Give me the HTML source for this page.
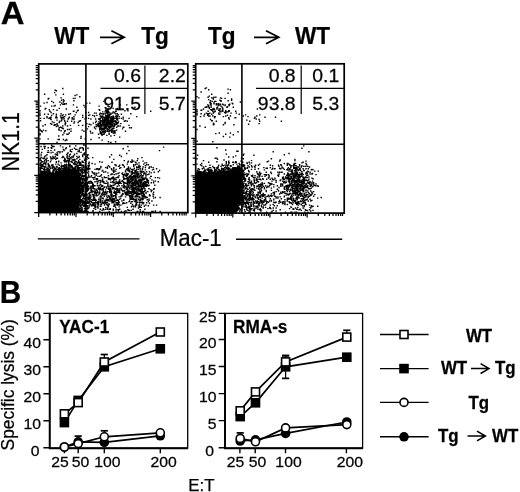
<!DOCTYPE html>
<html lang="en"><head><meta charset="utf-8"><title>Figure</title>
<style>html,body{margin:0;padding:0;background:#fff}svg{display:block}text{stroke:#000;stroke-width:.25px}</style></head>
<body>
<svg width="520" height="492" viewBox="0 0 520 492" font-family='"Liberation Sans", Arial, Helvetica, sans-serif' fill="#000">
<rect width="520" height="492" fill="#fff"/>
<text transform="translate(0.7,24.1) scale(1.04,1)" font-size="31.6" font-weight="bold">A</text>
<text transform="translate(-0.2,303.3) scale(0.925,1)" font-size="32.2" font-weight="bold">B</text>
<text transform="translate(54.3,43.7) scale(0.925,1)" font-size="24.4" font-weight="bold">WT</text>
<path d="M100 37.3H124.2M111.4 30.799999999999997L124.2 37.3L111.4 43.8" stroke="#000" stroke-width="1.7" fill="none" stroke-linejoin="miter"/>
<text transform="translate(141.2,43.7) scale(0.925,1)" font-size="24.4" font-weight="bold">Tg</text>
<text transform="translate(208,43.7) scale(0.925,1)" font-size="24.4" font-weight="bold">Tg</text>
<path d="M254 37.3H278.8M266.0 30.799999999999997L278.8 37.3L266.0 43.8" stroke="#000" stroke-width="1.7" fill="none" stroke-linejoin="miter"/>
<text transform="translate(295,43.7) scale(0.925,1)" font-size="24.4" font-weight="bold">WT</text>
<path d="M38.7 212.6v4.4M38.7 212.6h-4.4M49.9 212.6v3.0M38.7 201.4h-3.0M56.5 212.6v3.0M38.7 194.9h-3.0M61.1 212.6v3.0M38.7 190.2h-3.0M64.8 212.6v3.0M38.7 186.6h-3.0M67.7 212.6v3.0M38.7 183.7h-3.0M70.2 212.6v3.0M38.7 181.2h-3.0M72.4 212.6v3.0M38.7 179.0h-3.0M74.3 212.6v3.0M38.7 177.1h-3.0M76.0 212.6v4.4M38.7 175.4h-4.4M87.2 212.6v3.0M38.7 164.2h-3.0M93.8 212.6v3.0M38.7 157.7h-3.0M98.4 212.6v3.0M38.7 153.0h-3.0M102.1 212.6v3.0M38.7 149.4h-3.0M105.0 212.6v3.0M38.7 146.5h-3.0M107.5 212.6v3.0M38.7 144.0h-3.0M109.7 212.6v3.0M38.7 141.9h-3.0M111.6 212.6v3.0M38.7 140.0h-3.0M113.3 212.6v4.4M38.7 138.2h-4.4M124.5 212.6v3.0M38.7 127.1h-3.0M131.1 212.6v3.0M38.7 120.5h-3.0M135.7 212.6v3.0M38.7 115.9h-3.0M139.3 212.6v3.0M38.7 112.3h-3.0M142.3 212.6v3.0M38.7 109.3h-3.0M144.8 212.6v3.0M38.7 106.8h-3.0M146.9 212.6v3.0M38.7 104.7h-3.0M148.9 212.6v3.0M38.7 102.8h-3.0M150.6 212.6v4.4M38.7 101.1h-4.4M161.8 212.6v3.0M38.7 89.9h-3.0M168.4 212.6v3.0M38.7 83.3h-3.0M173.0 212.6v3.0M38.7 78.7h-3.0M176.6 212.6v3.0M38.7 75.1h-3.0M179.6 212.6v3.0M38.7 72.1h-3.0M182.1 212.6v3.0M38.7 69.7h-3.0M184.2 212.6v3.0M38.7 67.5h-3.0M186.1 212.6v3.0M38.7 65.6h-3.0" stroke="#000" stroke-width="1.25" fill="none"/>
<path d="M195.7 213.1v4.4M195.7 213.1h-4.4M206.9 213.1v3.0M195.7 201.9h-3.0M213.4 213.1v3.0M195.7 195.3h-3.0M218.1 213.1v3.0M195.7 190.6h-3.0M221.6 213.1v3.0M195.7 187.0h-3.0M224.6 213.1v3.0M195.7 184.1h-3.0M227.1 213.1v3.0M195.7 181.6h-3.0M229.2 213.1v3.0M195.7 179.4h-3.0M231.1 213.1v3.0M195.7 177.5h-3.0M232.8 213.1v4.4M195.7 175.8h-4.4M244.0 213.1v3.0M195.7 164.5h-3.0M250.5 213.1v3.0M195.7 158.0h-3.0M255.2 213.1v3.0M195.7 153.3h-3.0M258.8 213.1v3.0M195.7 149.7h-3.0M261.7 213.1v3.0M195.7 146.7h-3.0M264.2 213.1v3.0M195.7 144.2h-3.0M266.4 213.1v3.0M195.7 142.1h-3.0M268.3 213.1v3.0M195.7 140.2h-3.0M269.9 213.1v4.4M195.7 138.4h-4.4M281.1 213.1v3.0M195.7 127.2h-3.0M287.7 213.1v3.0M195.7 120.6h-3.0M292.3 213.1v3.0M195.7 116.0h-3.0M295.9 213.1v3.0M195.7 112.4h-3.0M298.8 213.1v3.0M195.7 109.4h-3.0M301.3 213.1v3.0M195.7 106.9h-3.0M303.5 213.1v3.0M195.7 104.7h-3.0M305.4 213.1v3.0M195.7 102.8h-3.0M307.1 213.1v4.4M195.7 101.1h-4.4M318.3 213.1v3.0M195.7 89.9h-3.0M324.8 213.1v3.0M195.7 83.3h-3.0M329.4 213.1v3.0M195.7 78.7h-3.0M333.0 213.1v3.0M195.7 75.0h-3.0M336.0 213.1v3.0M195.7 72.1h-3.0M338.4 213.1v3.0M195.7 69.6h-3.0M340.6 213.1v3.0M195.7 67.4h-3.0M342.5 213.1v3.0M195.7 65.5h-3.0" stroke="#000" stroke-width="1.25" fill="none"/>
<path d="M38.7 212.6L38.7 173.8L39.7 173.8L40.7 173.8L41.7 173.8L42.7 173.8L43.7 173.8L44.7 173.8L45.7 173.8L46.7 173.8L47.7 173.8L48.7 173.8L49.7 173.8L50.7 173.8L51.7 173.8L52.7 173.8L53.7 173.8L54.7 173.8L55.7 173.5L56.7 173.1L57.7 172.7L58.7 172.3L59.7 171.8L60.7 171.4L61.7 171.0L62.7 170.6L63.7 170.2L64.7 169.8L65.7 169.3L66.7 168.9L67.7 168.8L68.7 168.8L69.7 168.8L70.7 168.8L71.6 168.8L73.0 168.9L74.3 169.3L75.6 169.9L76.7 170.7L77.7 171.7L78.5 172.8L79.1 174.1L79.5 175.4L79.6 176.8L79.6 177.8L79.6 178.8L79.6 179.8L79.6 180.8L79.6 181.8L79.6 182.8L79.6 183.8L79.6 184.8L79.6 185.8L79.6 186.8L79.6 187.8L79.6 188.8L79.6 189.8L79.6 190.8L79.6 191.8L79.6 192.8L79.6 193.8L79.6 194.8L79.6 195.8L79.6 196.8L79.6 197.8L79.6 198.8L79.6 199.8L79.4 200.8L79.1 201.8L78.9 202.8L78.6 203.8L78.3 204.8L78.1 205.8L77.8 206.8L77.5 207.8L77.3 208.8L77.0 209.8L76.7 210.8L76.5 211.8L76.2 212.6Z" fill="#000"/>
<path d="M63.3 118.4h1.42M67.4 134.2h1.42M58.6 127.7h1.42M49.8 123.6h1.42M56.3 110.2h1.42M48.1 98.4h1.42M63.9 131.3h1.42M83.2 131.3h1.42M55.7 116.0h1.42M53.9 125.4h1.42M70.3 128.9h1.42M68.6 129.5h1.42M64.5 130.7h1.42M49.2 111.3h1.42M62.7 139.5h1.42M73.2 100.8h1.42M42.8 130.1h1.42M56.3 124.8h1.42M39.3 130.1h1.42M43.4 144.2h1.42M39.3 138.9h1.42M59.2 102.0h1.42M43.9 94.3h1.42M66.8 129.5h1.42M65.6 103.7h1.42M60.4 117.8h1.42M39.3 129.5h1.42M55.1 94.9h1.42M62.1 88.5h1.42M64.5 121.9h1.42M39.8 118.4h1.42M55.7 114.3h1.42M48.1 118.4h1.42M51.0 106.1h1.42M79.1 96.7h1.42M51.0 115.4h1.42M62.7 104.3h1.42M76.2 94.9h1.42M54.5 124.8h1.42M61.5 117.2h1.42M64.5 123.6h1.42M63.9 104.3h1.42M44.5 109.0h1.42M63.9 103.7h1.42M83.2 105.5h1.42M39.8 120.7h1.42M76.2 107.2h1.42M65.0 123.1h1.42M53.3 122.5h1.42M74.4 98.4h1.42M45.1 130.7h1.42M63.9 116.6h1.42M71.5 117.8h1.42M60.4 97.9h1.42M73.2 111.3h1.42M62.1 128.3h1.42M73.2 116.6h1.42M84.4 119.0h1.42M52.7 113.7h1.42M66.2 134.2h1.42M56.3 117.8h1.42M45.1 108.4h1.42M54.5 90.2h1.42M76.8 110.8h1.42M80.3 136.5h1.42M43.4 118.4h1.42M51.0 101.4h1.42M72.7 104.9h1.42M39.3 133.6h1.42M56.3 120.1h1.42M61.5 119.0h1.42M82.0 117.2h1.42M73.2 118.4h1.42M58.0 129.5h1.42M57.4 126.0h1.42M59.2 121.3h1.42M86.1 103.1h1.42M56.8 125.4h1.42M58.6 108.4h1.42M68.6 133.0h1.42M60.9 100.2h1.42M59.8 116.0h1.42M46.3 117.8h1.42M62.7 99.6h1.42M56.3 142.4h1.42M80.3 138.3h1.42M72.7 111.3h1.42M62.7 128.9h1.42M73.2 123.1h1.42M78.5 121.3h1.42M62.7 117.2h1.42M71.5 119.0h1.42M43.4 103.1h1.42M68.0 114.3h1.42M39.3 115.4h1.42M39.3 134.8h1.42M58.6 122.5h1.42M49.2 117.8h1.42M65.6 139.5h1.42M50.4 112.5h1.42M53.9 92.6h1.42M66.2 140.1h1.42M70.3 131.3h1.42M60.4 130.7h1.42M59.8 127.2h1.42M73.2 119.5h1.42M70.9 121.3h1.42M47.5 114.3h1.42M61.5 115.4h1.42M63.3 119.0h1.42M47.5 138.9h1.42M66.8 126.0h1.42M50.4 117.2h1.42M77.4 110.2h1.42M65.6 109.0h1.42M64.5 140.6h1.42M53.9 124.8h1.42M60.9 119.0h1.42M39.3 113.1h1.42M46.3 102.5h1.42M68.6 117.2h1.42M39.3 130.1h1.42M75.6 112.5h1.42M39.3 114.9h1.42M74.4 114.9h1.42M50.4 119.5h1.42M74.4 95.5h1.42M65.0 114.9h1.42M39.8 106.1h1.42M81.5 130.1h1.42M84.4 107.2h1.42M62.1 126.0h1.42M58.6 139.5h1.42M60.4 113.7h1.42M48.6 109.6h1.42M79.7 120.7h1.42M55.1 117.8h1.42M62.1 104.3h1.42M51.0 124.2h1.42M53.3 146.5h1.42M43.9 114.3h1.42M82.0 115.4h1.42M60.9 103.1h1.42M77.4 122.5h1.42M63.3 100.8h1.42M52.7 102.5h1.42M58.0 136.0h1.42M54.5 105.5h1.42M63.3 133.0h1.42M57.4 139.5h1.42M58.6 121.9h1.42M42.2 126.0h1.42M51.0 145.3h1.42M87.9 115.4h1.42M52.7 109.6h1.42M47.5 99.0h1.42M68.0 118.4h1.42M84.4 138.9h1.42M41.0 131.3h1.42M59.8 104.9h1.42M53.3 106.1h1.42M39.3 110.8h1.42M73.8 121.9h1.42M62.7 114.9h1.42M63.9 120.7h1.42M51.6 121.9h1.42M69.7 113.7h1.42M55.1 117.2h1.42M60.9 120.7h1.42M46.3 116.6h1.42M44.5 124.8h1.42M83.2 144.2h1.42M55.7 126.6h1.42M67.4 119.0h1.42M62.7 94.3h1.42M56.3 123.6h1.42M55.7 90.8h1.42M72.7 98.4h1.42M58.6 130.1h1.42M60.9 127.7h1.42M62.7 102.0h1.42M62.1 134.8h1.42M82.0 125.4h1.42M40.4 130.7h1.42M53.3 125.4h1.42M66.8 121.3h1.42M41.6 131.8h1.42M49.8 119.0h1.42M112.5 123.1h1.42M104.9 118.4h1.42M109.6 122.5h1.42M106.7 120.7h1.42M105.5 126.6h1.42M105.5 119.5h1.42M100.8 120.7h1.42M100.2 128.3h1.42M111.3 131.8h1.42M106.7 131.3h1.42M108.4 122.5h1.42M111.9 123.1h1.42M99.0 130.1h1.42M103.7 121.9h1.42M108.4 117.8h1.42M109.0 122.5h1.42M105.5 124.2h1.42M112.5 118.4h1.42M108.4 114.9h1.42M101.4 116.6h1.42M102.5 126.0h1.42M111.3 118.4h1.42M109.6 121.3h1.42M97.9 124.2h1.42M113.7 124.2h1.42M110.2 120.7h1.42M113.7 123.6h1.42M105.5 118.4h1.42M106.1 120.7h1.42M102.0 118.4h1.42M119.5 126.0h1.42M106.7 122.5h1.42M114.9 118.4h1.42M104.3 121.3h1.42M107.8 121.3h1.42M99.0 126.0h1.42M105.5 115.4h1.42M111.9 117.2h1.42M101.4 121.3h1.42M112.5 133.0h1.42M109.0 126.6h1.42M102.0 122.5h1.42M104.9 126.0h1.42M104.9 131.8h1.42M107.2 121.3h1.42M104.9 120.7h1.42M103.1 128.3h1.42M106.1 124.8h1.42M102.5 126.0h1.42M100.8 120.7h1.42M107.2 130.7h1.42M111.3 129.5h1.42M99.6 125.4h1.42M107.2 125.4h1.42M104.3 113.7h1.42M102.5 125.4h1.42M111.3 121.3h1.42M104.9 124.2h1.42M114.9 124.8h1.42M103.7 121.3h1.42M109.0 114.3h1.42M106.1 124.2h1.42M103.7 119.5h1.42M110.2 120.7h1.42M106.7 119.5h1.42M110.2 120.7h1.42M107.2 111.9h1.42M102.0 128.3h1.42M106.7 123.6h1.42M107.8 127.2h1.42M111.9 130.7h1.42M103.1 123.1h1.42M107.2 114.3h1.42M99.0 119.0h1.42M110.8 116.6h1.42M102.0 120.7h1.42M98.4 123.6h1.42M107.2 113.1h1.42M112.5 123.1h1.42M99.6 116.0h1.42M102.0 124.2h1.42M103.7 121.9h1.42M102.0 121.3h1.42M109.0 121.9h1.42M103.1 120.1h1.42M103.7 120.1h1.42M110.2 114.3h1.42M103.7 122.5h1.42M109.6 130.1h1.42M102.5 131.8h1.42M101.4 128.9h1.42M98.4 126.6h1.42M116.6 118.4h1.42M105.5 128.9h1.42M108.4 121.9h1.42M107.2 121.9h1.42M107.8 120.7h1.42M107.8 122.5h1.42M116.6 119.5h1.42M102.0 122.5h1.42M99.6 118.4h1.42M102.5 121.3h1.42M100.8 133.0h1.42M110.8 121.9h1.42M111.3 120.7h1.42M102.5 125.4h1.42M100.2 126.0h1.42M105.5 117.2h1.42M114.3 120.7h1.42M93.8 127.7h1.42M110.2 123.1h1.42M102.0 123.1h1.42M112.5 128.9h1.42M102.0 119.5h1.42M106.1 123.1h1.42M100.2 120.7h1.42M102.5 129.5h1.42M114.3 113.1h1.42M111.3 119.0h1.42M105.5 120.1h1.42M103.1 125.4h1.42M97.9 126.0h1.42M105.5 128.9h1.42M107.2 115.4h1.42M106.7 126.0h1.42M106.7 121.3h1.42M102.0 119.5h1.42M107.2 124.8h1.42M107.2 118.4h1.42M113.7 112.5h1.42M116.6 119.5h1.42M106.7 115.4h1.42M103.7 119.5h1.42M107.2 124.2h1.42M104.3 124.2h1.42M103.7 129.5h1.42M107.2 121.3h1.42M102.0 116.0h1.42M110.2 118.4h1.42M106.7 118.4h1.42M108.4 116.6h1.42M106.7 124.2h1.42M103.7 119.5h1.42M102.5 113.7h1.42M106.1 125.4h1.42M104.9 121.9h1.42M108.4 123.6h1.42M107.2 123.1h1.42M100.8 126.0h1.42M107.8 122.5h1.42M100.8 128.3h1.42M104.3 124.2h1.42M106.1 124.2h1.42M97.3 124.8h1.42M107.8 116.0h1.42M107.8 121.3h1.42M106.7 121.3h1.42M105.5 123.6h1.42M105.5 116.6h1.42M102.5 130.1h1.42M106.1 123.1h1.42M104.3 117.2h1.42M107.8 114.9h1.42M101.4 121.3h1.42M108.4 121.9h1.42M107.8 119.0h1.42M106.7 123.1h1.42M104.9 119.5h1.42M110.2 124.2h1.42M99.0 119.5h1.42M109.6 121.9h1.42M108.4 126.6h1.42M108.4 133.6h1.42M109.0 117.8h1.42M104.3 120.7h1.42M106.1 118.4h1.42M110.2 125.4h1.42M109.6 117.2h1.42M108.4 120.1h1.42M99.6 123.1h1.42M110.2 117.8h1.42M113.1 117.2h1.42M112.5 119.5h1.42M108.4 112.5h1.42M99.6 116.6h1.42M111.9 120.1h1.42M106.7 123.1h1.42M94.9 122.5h1.42M109.0 114.3h1.42M100.2 120.7h1.42M100.8 126.6h1.42M104.3 124.8h1.42M113.7 121.3h1.42M105.5 118.4h1.42M108.4 124.8h1.42M116.0 119.0h1.42M114.9 116.6h1.42M106.7 119.0h1.42M106.1 128.9h1.42M101.4 123.6h1.42M103.7 127.7h1.42M109.6 120.1h1.42M109.0 126.6h1.42M107.8 119.5h1.42M111.9 121.3h1.42M103.7 133.6h1.42M107.2 126.0h1.42M110.8 119.5h1.42M110.2 121.9h1.42M112.5 123.1h1.42M109.0 127.7h1.42M106.1 120.1h1.42M109.0 114.3h1.42M102.5 121.3h1.42M99.0 123.1h1.42M110.2 122.5h1.42M107.2 128.3h1.42M109.0 123.6h1.42M99.0 126.6h1.42M105.5 117.8h1.42M104.3 126.6h1.42M103.1 131.8h1.42M96.1 126.6h1.42M105.5 123.6h1.42M111.9 122.5h1.42M109.0 130.1h1.42M104.3 118.4h1.42M107.2 121.9h1.42M110.8 124.2h1.42M93.8 127.2h1.42M106.7 120.1h1.42M110.2 123.6h1.42M110.8 120.7h1.42M115.4 121.9h1.42M113.1 121.3h1.42M109.0 117.2h1.42M109.0 121.9h1.42M111.3 126.0h1.42M104.9 118.4h1.42M107.2 121.3h1.42M111.9 124.8h1.42M116.6 116.6h1.42M106.7 123.1h1.42M107.2 117.8h1.42M108.4 127.2h1.42M113.7 131.8h1.42M107.2 131.3h1.42M114.3 120.7h1.42M102.5 126.0h1.42M106.7 123.1h1.42M106.1 123.1h1.42M111.3 128.9h1.42M112.5 116.0h1.42M99.6 127.7h1.42M102.5 122.5h1.42M109.0 128.3h1.42M104.3 123.6h1.42M99.6 120.1h1.42M112.5 123.1h1.42M109.6 125.4h1.42M109.6 122.5h1.42M104.9 124.8h1.42M112.5 119.5h1.42M106.1 113.1h1.42M112.5 126.0h1.42M102.5 126.0h1.42M103.1 123.1h1.42M108.4 122.5h1.42M103.7 127.2h1.42M110.8 120.1h1.42M101.4 140.1h1.42M105.5 116.0h1.42M117.8 121.9h1.42M95.5 121.3h1.42M117.8 126.0h1.42M102.0 130.1h1.42M97.9 119.0h1.42M118.4 116.6h1.42M106.7 110.2h1.42M96.1 115.4h1.42M104.3 126.6h1.42M115.4 123.1h1.42M117.8 114.9h1.42M103.7 119.5h1.42M110.8 122.5h1.42M113.7 126.0h1.42M102.0 118.4h1.42M110.2 120.7h1.42M107.2 109.0h1.42M102.5 114.3h1.42M103.1 134.2h1.42M107.8 106.1h1.42M107.8 120.1h1.42M102.5 124.2h1.42M103.7 119.5h1.42M116.6 116.6h1.42M109.0 121.9h1.42M114.9 122.5h1.42M117.8 121.9h1.42M112.5 108.4h1.42M126.6 121.3h1.42M100.2 116.0h1.42M114.3 118.4h1.42M104.3 124.2h1.42M123.1 127.2h1.42M121.9 128.9h1.42M90.2 119.0h1.42M99.0 129.5h1.42M113.1 131.3h1.42M114.3 130.7h1.42M113.7 133.0h1.42M106.7 121.3h1.42M111.3 121.3h1.42M113.1 128.3h1.42M106.7 112.5h1.42M116.0 124.2h1.42M87.9 118.4h1.42M112.5 119.5h1.42M98.4 109.6h1.42M115.4 116.0h1.42M105.5 122.5h1.42M99.6 128.9h1.42M110.8 130.1h1.42M99.6 121.9h1.42M99.6 121.3h1.42M93.8 116.6h1.42M107.2 125.4h1.42M111.3 120.7h1.42M116.0 127.2h1.42M106.1 135.4h1.42M116.0 122.5h1.42M107.2 111.3h1.42M106.7 116.0h1.42M112.5 111.9h1.42M116.6 113.7h1.42M104.3 132.4h1.42M105.5 124.2h1.42M106.1 111.3h1.42M107.8 127.2h1.42M99.6 131.8h1.42M116.0 119.5h1.42M103.7 117.8h1.42M111.3 120.1h1.42M100.2 124.8h1.42M110.2 127.2h1.42M110.8 131.3h1.42M103.7 131.3h1.42M124.8 131.3h1.42M110.8 132.4h1.42M122.5 127.2h1.42M115.4 111.3h1.42M101.4 121.3h1.42M103.7 124.8h1.42M111.3 119.5h1.42M107.8 129.5h1.42M107.8 119.5h1.42M104.9 115.4h1.42M92.0 133.0h1.42M105.5 127.2h1.42M88.5 124.2h1.42M110.8 129.5h1.42M100.8 130.1h1.42M101.4 124.8h1.42M105.5 104.3h1.42M109.6 117.8h1.42M94.9 119.0h1.42M92.0 115.4h1.42M97.9 124.2h1.42M89.7 131.3h1.42M99.0 119.0h1.42M120.7 114.3h1.42M98.4 137.7h1.42M113.1 119.0h1.42M95.5 113.1h1.42M109.6 124.2h1.42M104.3 125.4h1.42M106.7 117.2h1.42M111.9 128.3h1.42M122.5 119.0h1.42M109.0 115.4h1.42M108.4 123.6h1.42M99.0 128.3h1.42M112.5 117.8h1.42M104.9 124.8h1.42M114.3 121.9h1.42M106.7 143.6h1.42M122.5 117.2h1.42M90.2 133.0h1.42M104.9 121.9h1.42M114.9 121.3h1.42M104.3 127.7h1.42M100.2 128.9h1.42M104.9 131.8h1.42M95.5 124.8h1.42M108.4 117.8h1.42M128.3 118.4h1.42M117.2 126.0h1.42M97.9 126.6h1.42M99.6 133.0h1.42M103.7 125.4h1.42M116.0 130.1h1.42M100.2 133.6h1.42M101.4 123.6h1.42M114.9 111.3h1.42M114.9 113.7h1.42M104.3 111.9h1.42M97.9 134.2h1.42M93.8 116.0h1.42M101.4 131.8h1.42M87.9 126.6h1.42M113.7 135.4h1.42M102.0 130.1h1.42M111.3 121.9h1.42M123.6 121.3h1.42M117.2 123.1h1.42M97.3 123.6h1.42M114.9 118.4h1.42M117.2 122.5h1.42M100.8 134.2h1.42M99.0 110.2h1.42M106.1 124.2h1.42M93.8 116.0h1.42M120.1 123.6h1.42M86.7 128.9h1.42M97.9 121.9h1.42M104.9 128.3h1.42M105.5 110.8h1.42M109.0 130.7h1.42M109.6 117.8h1.42M105.5 127.2h1.42M117.2 123.6h1.42M89.1 103.1h1.42M107.2 116.6h1.42M101.4 124.2h1.42M108.4 134.2h1.42M109.0 124.8h1.42M99.6 124.2h1.42M102.0 111.9h1.42M114.3 133.0h1.42M110.2 136.0h1.42M101.4 122.5h1.42M124.8 120.7h1.42M127.2 110.8h1.42M94.9 128.9h1.42M110.2 142.4h1.42M128.9 127.7h1.42M114.3 131.8h1.42M109.0 126.6h1.42M105.5 115.4h1.42M102.5 132.4h1.42M105.5 113.1h1.42M102.5 120.7h1.42M113.7 124.8h1.42M103.7 128.9h1.42M103.7 125.4h1.42M96.7 125.4h1.42M106.7 116.6h1.42M99.6 113.1h1.42M105.5 123.1h1.42M116.0 117.2h1.42M110.2 113.1h1.42M111.9 113.1h1.42M110.2 119.0h1.42M107.8 109.0h1.42M106.1 112.5h1.42M104.9 110.2h1.42M113.7 123.6h1.42M97.9 125.4h1.42M119.0 137.1h1.42M107.8 111.3h1.42M100.8 117.2h1.42M103.1 129.5h1.42M101.4 120.7h1.42M108.4 120.1h1.42M101.4 135.4h1.42M117.2 120.1h1.42M100.8 113.7h1.42M87.9 112.5h1.42M100.8 124.8h1.42M90.2 124.8h1.42M107.2 112.5h1.42M116.6 115.4h1.42M113.1 126.6h1.42M95.5 126.6h1.42M100.8 117.8h1.42M122.5 127.2h1.42M110.2 126.6h1.42M107.2 109.6h1.42M116.6 120.1h1.42M128.3 125.4h1.42M118.4 118.4h1.42M108.4 106.7h1.42M110.2 120.1h1.42M112.5 128.3h1.42M102.0 134.2h1.42M98.4 106.1h1.42M107.8 141.8h1.42M99.0 114.3h1.42M106.7 129.5h1.42M108.4 131.8h1.42M120.7 118.4h1.42M107.2 106.1h1.42M86.1 123.6h1.42M114.9 141.8h1.42M93.8 113.1h1.42M64.5 124.8h1.42M150.0 111.3h1.42M116.6 108.4h1.42M134.2 107.2h1.42M90.2 139.5h1.42M128.3 150.6h1.42M130.7 127.7h1.42M130.1 113.7h1.42M104.9 130.7h1.42M85.6 117.8h1.42M102.0 131.8h1.42M69.7 125.4h1.42M77.9 125.4h1.42M106.7 129.5h1.42M89.1 114.9h1.42M102.5 117.2h1.42M103.1 101.4h1.42M136.0 116.6h1.42M126.0 104.9h1.42M104.3 120.1h1.42M124.2 110.8h1.42M92.6 123.1h1.42M99.6 127.2h1.42M119.5 104.9h1.42M85.0 112.5h1.42M100.2 198.7h1.42M107.8 178.1h1.42M118.4 202.2h1.42M111.9 198.7h1.42M86.1 178.7h1.42M101.4 194.0h1.42M92.0 211.0h1.42M87.3 196.9h1.42M90.8 186.9h1.42M92.6 185.8h1.42M117.8 211.0h1.42M110.2 174.6h1.42M113.7 201.0h1.42M108.4 211.5h1.42M94.9 191.6h1.42M97.9 187.5h1.42M99.6 180.5h1.42M94.3 169.4h1.42M99.0 176.4h1.42M110.8 178.7h1.42M86.7 191.0h1.42M93.8 199.2h1.42M100.8 185.2h1.42M107.8 188.1h1.42M106.7 168.2h1.42M109.6 186.3h1.42M87.9 203.3h1.42M90.2 186.3h1.42M94.9 201.0h1.42M110.2 195.1h1.42M119.0 192.8h1.42M107.8 178.7h1.42M85.0 161.1h1.42M94.3 192.2h1.42M116.6 205.1h1.42M104.9 202.8h1.42M96.1 168.8h1.42M96.7 202.2h1.42M106.1 203.9h1.42M114.3 195.7h1.42M96.1 169.4h1.42M90.8 202.2h1.42M84.4 184.0h1.42M89.1 200.4h1.42M113.7 198.7h1.42M106.1 204.5h1.42M119.0 209.2h1.42M86.1 184.0h1.42M96.7 181.7h1.42M111.9 181.7h1.42M107.2 186.3h1.42M86.1 189.9h1.42M97.9 204.5h1.42M106.1 188.1h1.42M107.8 206.9h1.42M99.6 202.2h1.42M90.8 190.4h1.42M117.8 202.8h1.42M100.2 186.9h1.42M109.0 192.2h1.42M102.5 198.7h1.42M86.7 168.8h1.42M92.0 188.1h1.42M86.1 209.8h1.42M90.8 202.2h1.42M90.8 181.7h1.42M98.4 188.1h1.42M96.7 206.9h1.42M112.5 177.0h1.42M85.0 185.2h1.42M112.5 198.7h1.42M102.5 208.6h1.42M99.6 206.3h1.42M93.2 199.8h1.42M103.1 194.6h1.42M92.0 177.6h1.42M114.3 184.6h1.42M113.1 168.8h1.42M95.5 189.3h1.42M85.0 198.1h1.42M114.9 183.4h1.42M94.3 190.4h1.42M107.2 184.0h1.42M114.3 193.4h1.42M111.9 198.1h1.42M114.3 205.7h1.42M101.4 186.3h1.42M113.7 179.3h1.42M100.2 201.6h1.42M93.2 197.5h1.42M100.8 194.6h1.42M95.5 192.8h1.42M110.8 169.4h1.42M113.1 199.8h1.42M89.1 192.8h1.42M89.7 195.1h1.42M97.3 168.8h1.42M100.2 167.6h1.42M117.2 177.0h1.42M117.2 199.8h1.42M117.8 201.0h1.42M109.6 185.2h1.42M107.8 165.8h1.42M93.2 197.5h1.42M97.3 188.7h1.42M84.4 192.8h1.42M113.1 170.5h1.42M93.8 172.9h1.42M86.7 205.7h1.42M94.9 202.8h1.42M95.5 189.3h1.42M109.6 192.8h1.42M84.4 182.2h1.42M92.0 200.4h1.42M115.4 211.0h1.42M113.7 205.1h1.42M106.1 181.1h1.42M103.7 202.8h1.42M92.0 191.0h1.42M114.9 201.0h1.42M110.8 168.8h1.42M102.0 195.1h1.42M89.7 198.1h1.42M91.4 171.7h1.42M97.3 181.1h1.42M95.5 173.5h1.42M86.1 191.0h1.42M98.4 194.0h1.42M99.6 209.2h1.42M93.8 192.8h1.42M97.3 205.7h1.42M95.5 179.3h1.42M97.3 192.2h1.42M105.5 199.2h1.42M101.4 194.6h1.42M90.8 191.0h1.42M111.9 187.5h1.42M102.0 179.3h1.42M100.2 181.7h1.42M109.0 178.7h1.42M110.2 200.4h1.42M112.5 182.8h1.42M107.2 191.6h1.42M109.0 198.7h1.42M89.7 181.7h1.42M108.4 204.5h1.42M93.2 198.7h1.42M93.2 194.6h1.42M88.5 162.3h1.42M97.9 169.9h1.42M85.0 199.8h1.42M107.2 200.4h1.42M110.2 191.0h1.42M111.3 201.0h1.42M88.5 188.1h1.42M106.7 209.2h1.42M113.1 199.2h1.42M85.0 194.0h1.42M93.2 173.5h1.42M90.2 187.5h1.42M103.1 182.8h1.42M96.1 181.1h1.42M106.7 202.2h1.42M102.5 188.1h1.42M107.8 195.7h1.42M92.6 184.6h1.42M109.0 191.0h1.42M109.6 208.6h1.42M109.0 167.0h1.42M86.1 208.6h1.42M117.2 209.8h1.42M104.3 192.8h1.42M93.8 188.7h1.42M99.0 169.4h1.42M102.0 181.1h1.42M102.0 179.9h1.42M92.6 186.9h1.42M93.2 177.6h1.42M111.3 199.8h1.42M99.0 191.0h1.42M85.6 197.5h1.42M99.6 184.6h1.42M90.8 189.3h1.42M84.4 178.7h1.42M118.4 181.1h1.42M94.3 207.4h1.42M102.5 191.0h1.42M96.7 191.0h1.42M86.1 177.0h1.42M115.4 181.7h1.42M116.6 186.3h1.42M90.2 195.1h1.42M98.4 189.3h1.42M97.3 205.1h1.42M89.7 203.9h1.42M107.2 182.8h1.42M111.3 177.6h1.42M110.8 192.2h1.42M107.8 175.8h1.42M84.4 167.0h1.42M92.0 194.6h1.42M102.0 181.7h1.42M108.4 201.0h1.42M97.3 201.6h1.42M99.6 199.8h1.42M113.7 188.1h1.42M85.0 184.0h1.42M93.2 205.7h1.42M94.3 199.2h1.42M119.0 182.2h1.42M92.0 194.6h1.42M85.6 205.7h1.42M98.4 180.5h1.42M106.7 208.0h1.42M89.7 204.5h1.42M113.1 206.3h1.42M90.8 205.7h1.42M108.4 189.3h1.42M89.7 198.7h1.42M114.9 195.7h1.42M90.8 191.6h1.42M109.6 179.9h1.42M113.1 167.6h1.42M93.2 203.9h1.42M87.3 195.1h1.42M104.3 200.4h1.42M101.4 202.8h1.42M100.8 196.9h1.42M111.3 194.6h1.42M100.2 203.9h1.42M101.4 186.3h1.42M100.8 174.6h1.42M99.6 189.3h1.42M98.4 193.4h1.42M89.7 188.1h1.42M94.3 193.4h1.42M93.2 185.8h1.42M92.6 199.2h1.42M111.3 194.6h1.42M87.9 202.2h1.42M91.4 192.8h1.42M102.5 202.8h1.42M94.9 205.1h1.42M92.6 211.0h1.42M97.3 195.1h1.42M107.8 203.9h1.42M117.8 166.4h1.42M113.7 204.5h1.42M99.0 188.1h1.42M99.6 201.6h1.42M98.4 198.1h1.42M92.6 204.5h1.42M117.2 200.4h1.42M86.1 198.7h1.42M91.4 192.2h1.42M107.2 185.2h1.42M104.9 177.6h1.42M93.8 203.3h1.42M116.6 189.3h1.42M98.4 198.1h1.42M104.9 207.4h1.42M87.3 202.2h1.42M115.4 193.4h1.42M87.3 188.7h1.42M97.9 201.6h1.42M114.9 197.5h1.42M117.2 189.9h1.42M115.4 174.0h1.42M113.1 202.8h1.42M92.0 202.8h1.42M85.0 171.1h1.42M99.6 182.8h1.42M86.1 194.0h1.42M117.8 202.2h1.42M95.5 195.7h1.42M90.8 199.8h1.42M84.4 199.8h1.42M101.4 177.6h1.42M86.7 179.9h1.42M115.4 198.7h1.42M107.8 199.8h1.42M96.7 202.8h1.42M113.7 182.8h1.42M111.9 174.0h1.42M95.5 202.8h1.42M113.7 179.3h1.42M116.6 188.7h1.42M105.5 186.9h1.42M115.4 188.7h1.42M117.2 192.2h1.42M96.1 192.8h1.42M114.3 192.2h1.42M107.2 205.7h1.42M92.0 183.4h1.42M103.7 192.2h1.42M94.9 199.8h1.42M116.0 204.5h1.42M96.1 190.4h1.42M90.8 175.8h1.42M85.6 182.8h1.42M96.1 192.8h1.42M118.4 175.8h1.42M91.4 171.7h1.42M100.2 175.8h1.42M117.8 192.2h1.42M84.4 186.3h1.42M94.3 206.3h1.42M112.5 201.6h1.42M87.3 201.6h1.42M116.6 202.8h1.42M113.1 198.7h1.42M89.1 194.6h1.42M104.9 189.9h1.42M103.7 205.1h1.42M108.4 201.0h1.42M94.9 206.9h1.42M97.3 202.2h1.42M92.6 188.1h1.42M94.3 199.8h1.42M90.2 196.9h1.42M115.4 202.8h1.42M114.9 171.1h1.42M96.7 185.2h1.42M108.4 186.9h1.42M101.4 193.4h1.42M93.8 197.5h1.42M96.1 173.5h1.42M117.8 191.0h1.42M96.1 193.4h1.42M104.3 193.4h1.42M117.2 182.2h1.42M94.3 192.2h1.42M112.5 198.7h1.42M87.9 198.7h1.42M109.6 199.2h1.42M112.5 196.3h1.42M113.1 192.8h1.42M118.4 205.1h1.42M109.0 197.5h1.42M118.4 204.5h1.42M93.8 195.1h1.42M102.0 180.5h1.42M91.4 204.5h1.42M86.7 203.3h1.42M99.6 201.0h1.42M109.0 186.9h1.42M111.3 198.1h1.42M117.2 204.5h1.42M92.6 196.3h1.42M94.3 204.5h1.42M115.4 209.2h1.42M109.6 188.7h1.42M95.5 178.7h1.42M100.2 200.4h1.42M113.1 188.7h1.42M96.7 203.9h1.42M111.9 202.2h1.42M111.3 195.7h1.42M100.2 206.3h1.42M115.4 179.9h1.42M97.3 208.0h1.42M110.2 189.9h1.42M106.7 167.0h1.42M95.5 194.6h1.42M102.5 198.1h1.42M105.5 183.4h1.42M102.5 189.3h1.42M87.9 169.9h1.42M119.0 183.4h1.42M117.8 209.8h1.42M85.6 203.9h1.42M117.2 202.8h1.42M102.5 203.3h1.42M88.5 198.7h1.42M112.5 187.5h1.42M99.0 161.7h1.42M109.0 188.7h1.42M113.1 168.2h1.42M102.5 209.2h1.42M85.6 203.9h1.42M112.5 171.1h1.42M108.4 196.3h1.42M116.0 188.1h1.42M93.2 203.3h1.42M111.3 169.9h1.42M114.3 171.1h1.42M96.7 185.8h1.42M98.4 185.8h1.42M95.5 202.8h1.42M84.4 202.8h1.42M92.0 185.8h1.42M95.5 192.8h1.42M87.9 199.2h1.42M110.8 185.8h1.42M99.0 192.8h1.42M103.7 202.2h1.42M93.8 174.6h1.42M96.7 183.4h1.42M110.2 195.7h1.42M100.2 204.5h1.42M104.9 202.2h1.42M99.0 168.8h1.42M103.7 186.9h1.42M115.4 198.7h1.42M93.2 208.6h1.42M102.0 192.8h1.42M107.8 189.3h1.42M87.3 208.0h1.42M117.8 203.3h1.42M101.4 210.4h1.42M92.6 195.1h1.42M110.8 193.4h1.42M112.5 185.2h1.42M106.1 199.2h1.42M116.0 200.4h1.42M87.3 208.6h1.42M102.5 191.6h1.42M110.2 182.2h1.42M116.0 183.4h1.42M106.7 202.2h1.42M104.9 191.6h1.42M97.9 202.8h1.42M103.7 177.0h1.42M103.1 209.8h1.42M115.4 165.3h1.42M113.1 181.1h1.42M109.6 209.2h1.42M116.6 182.8h1.42M86.1 203.3h1.42M110.8 186.9h1.42M100.2 166.4h1.42M110.2 199.8h1.42M94.3 177.0h1.42M100.2 198.1h1.42M113.1 202.2h1.42M85.0 161.1h1.42M94.3 185.8h1.42M101.4 162.3h1.42M113.7 204.5h1.42M93.2 195.7h1.42M113.1 195.7h1.42M94.3 199.8h1.42M103.1 172.3h1.42M106.7 167.6h1.42M114.9 179.3h1.42M114.9 192.2h1.42M110.2 194.6h1.42M106.1 202.2h1.42M97.3 181.7h1.42M111.3 198.7h1.42M115.4 197.5h1.42M100.8 195.1h1.42M116.0 192.8h1.42M88.5 165.8h1.42M110.8 196.9h1.42M94.9 191.6h1.42M104.3 201.0h1.42M101.4 171.1h1.42M89.1 181.7h1.42M110.2 195.1h1.42M110.2 201.0h1.42M89.1 201.6h1.42M93.2 179.3h1.42M111.9 201.0h1.42M116.0 194.6h1.42M114.3 191.6h1.42M101.4 188.7h1.42M96.7 202.2h1.42M99.6 188.1h1.42M90.2 183.4h1.42M101.4 194.0h1.42M92.0 205.1h1.42M89.7 181.1h1.42M97.3 204.5h1.42M86.1 190.4h1.42M100.2 197.5h1.42M108.4 209.2h1.42M106.7 191.6h1.42M118.4 191.0h1.42M114.9 194.6h1.42M106.1 192.8h1.42M115.4 177.6h1.42M99.6 201.6h1.42M111.9 199.8h1.42M93.8 202.8h1.42M102.5 189.9h1.42M118.4 196.9h1.42M104.9 209.2h1.42M102.0 170.5h1.42M111.3 178.1h1.42M94.9 205.7h1.42M113.1 172.3h1.42M84.4 206.3h1.42M92.6 196.9h1.42M90.2 190.4h1.42M93.2 196.9h1.42M85.0 199.2h1.42M94.3 181.7h1.42M104.3 183.4h1.42M108.4 203.9h1.42M111.3 199.8h1.42M91.4 186.3h1.42M113.7 191.6h1.42M88.5 193.4h1.42M86.1 186.3h1.42M92.0 172.9h1.42M101.4 202.8h1.42M117.2 190.4h1.42M109.6 186.9h1.42M103.7 196.3h1.42M102.0 185.8h1.42M108.4 196.3h1.42M106.1 177.6h1.42M95.5 200.4h1.42M87.3 201.0h1.42M90.8 186.3h1.42M111.3 201.6h1.42M106.1 195.1h1.42M111.9 178.1h1.42M85.6 188.7h1.42M115.4 169.4h1.42M97.3 176.4h1.42M116.6 203.9h1.42M104.9 194.6h1.42M103.1 194.0h1.42M112.5 177.0h1.42M106.1 196.9h1.42M107.8 206.3h1.42M89.7 192.2h1.42M104.9 192.2h1.42M96.7 185.2h1.42M86.7 186.9h1.42M88.5 181.7h1.42M100.8 204.5h1.42M93.2 191.6h1.42M110.8 196.9h1.42M88.5 206.9h1.42M84.4 192.2h1.42M119.0 179.9h1.42M94.9 207.4h1.42M102.0 201.0h1.42M91.4 182.8h1.42M91.4 205.1h1.42M97.9 203.9h1.42M111.9 198.1h1.42M85.6 202.8h1.42M113.1 177.6h1.42M118.4 206.9h1.42M103.7 194.0h1.42M96.7 203.3h1.42M92.0 184.6h1.42M90.2 177.0h1.42M95.5 175.2h1.42M113.7 199.2h1.42M84.4 202.2h1.42M111.3 162.3h1.42M107.2 197.5h1.42M84.4 184.6h1.42M86.1 189.9h1.42M109.6 192.2h1.42M107.8 179.3h1.42M114.3 204.5h1.42M91.4 192.2h1.42M99.0 193.4h1.42M87.9 169.9h1.42M106.7 205.1h1.42M87.3 182.2h1.42M90.2 188.7h1.42M110.8 174.0h1.42M101.4 180.5h1.42M107.2 172.9h1.42M109.6 198.1h1.42M105.5 200.4h1.42M90.8 201.6h1.42M108.4 196.3h1.42M87.9 171.7h1.42M93.2 188.7h1.42M99.6 196.3h1.42M87.9 198.1h1.42M87.9 186.3h1.42M106.7 199.8h1.42M110.2 189.3h1.42M96.7 178.7h1.42M97.9 199.8h1.42M91.4 163.5h1.42M102.0 198.1h1.42M104.3 203.9h1.42M116.6 189.9h1.42M85.6 182.2h1.42M116.0 191.0h1.42M119.0 168.2h1.42M96.1 195.7h1.42M109.6 179.3h1.42M113.1 185.2h1.42M106.7 200.4h1.42M94.3 200.4h1.42M106.1 193.4h1.42M87.9 193.4h1.42M100.8 189.9h1.42M109.0 189.9h1.42M133.6 192.8h1.42M135.4 179.3h1.42M152.9 205.1h1.42M150.0 189.9h1.42M117.2 192.2h1.42M136.5 173.5h1.42M97.9 202.2h1.42M91.4 171.7h1.42M138.3 167.6h1.42M152.9 192.2h1.42M140.6 205.1h1.42M123.1 175.8h1.42M131.8 176.4h1.42M139.5 168.2h1.42M127.2 192.8h1.42M111.3 201.6h1.42M148.8 167.0h1.42M111.9 188.7h1.42M152.9 189.3h1.42M144.7 165.8h1.42M144.2 188.7h1.42M147.1 174.6h1.42M158.8 170.5h1.42M159.4 211.5h1.42M121.9 164.7h1.42M112.5 178.7h1.42M139.5 193.4h1.42M157.6 181.7h1.42M131.8 161.1h1.42M86.1 206.9h1.42M86.7 172.9h1.42M119.5 182.2h1.42M144.2 209.2h1.42M151.2 211.5h1.42M112.5 209.2h1.42M123.1 182.2h1.42M123.1 200.4h1.42M91.4 205.7h1.42M83.8 170.5h1.42M123.6 211.5h1.42M122.5 165.3h1.42M149.4 195.7h1.42M97.9 172.9h1.42M148.8 171.7h1.42M104.9 167.6h1.42M124.8 211.0h1.42M137.7 167.0h1.42M94.9 209.2h1.42M155.9 168.8h1.42M157.0 177.6h1.42M157.6 171.7h1.42M84.4 211.5h1.42M133.0 165.3h1.42M134.8 206.3h1.42M150.6 176.4h1.42M99.0 211.5h1.42M93.2 200.4h1.42M145.3 174.0h1.42M103.7 187.5h1.42M89.1 168.8h1.42M90.8 182.2h1.42M133.0 161.1h1.42M124.8 196.9h1.42M140.6 192.2h1.42M145.3 174.6h1.42M84.4 160.6h1.42M154.7 211.0h1.42M150.6 167.0h1.42M154.7 177.6h1.42M142.4 161.1h1.42M113.1 180.5h1.42M103.1 181.7h1.42M153.5 188.7h1.42M116.0 177.6h1.42M121.3 173.5h1.42M137.1 202.2h1.42M136.5 175.2h1.42M136.5 178.1h1.42M131.3 186.3h1.42M122.5 174.6h1.42M142.4 199.2h1.42M114.3 164.7h1.42M103.7 177.6h1.42M152.9 182.8h1.42M148.3 174.0h1.42M138.3 205.1h1.42M96.7 179.3h1.42M87.3 182.8h1.42M154.1 185.2h1.42M155.9 205.1h1.42M104.9 171.7h1.42M131.8 204.5h1.42M85.6 211.0h1.42M113.7 174.6h1.42M137.7 169.4h1.42M111.3 202.8h1.42M145.3 177.0h1.42M153.5 172.3h1.42M94.3 164.1h1.42M136.5 193.4h1.42M112.5 210.4h1.42M97.3 207.4h1.42M110.8 191.6h1.42M120.7 183.4h1.42M152.4 211.5h1.42M142.4 195.7h1.42M84.4 211.5h1.42M88.5 196.9h1.42M159.4 197.5h1.42M126.6 175.2h1.42M134.8 189.3h1.42M134.8 206.9h1.42M131.8 179.3h1.42M141.2 186.3h1.42M147.7 201.6h1.42M131.8 178.1h1.42M131.8 176.4h1.42M117.2 173.5h1.42M133.6 190.4h1.42M131.3 191.6h1.42M117.8 184.0h1.42M136.5 186.3h1.42M138.9 200.4h1.42M128.9 195.7h1.42M131.8 169.9h1.42M127.2 185.8h1.42M140.6 186.9h1.42M122.5 194.0h1.42M131.8 183.4h1.42M149.4 178.1h1.42M134.8 180.5h1.42M138.3 165.3h1.42M133.6 185.2h1.42M125.4 178.7h1.42M134.2 191.0h1.42M137.7 174.0h1.42M126.6 180.5h1.42M137.1 174.6h1.42M144.2 173.5h1.42M143.0 194.0h1.42M121.9 180.5h1.42M127.2 190.4h1.42M121.9 172.9h1.42M143.0 186.9h1.42M139.5 166.4h1.42M140.1 179.9h1.42M127.7 179.9h1.42M125.4 192.2h1.42M135.4 187.5h1.42M135.4 183.4h1.42M127.7 195.1h1.42M135.4 187.5h1.42M139.5 191.6h1.42M136.5 194.6h1.42M126.6 184.6h1.42M117.8 182.2h1.42M132.4 189.3h1.42M136.0 180.5h1.42M132.4 189.9h1.42M131.3 198.1h1.42M128.9 195.1h1.42M140.1 181.1h1.42M134.2 170.5h1.42M135.4 184.6h1.42M127.2 184.0h1.42M129.5 198.1h1.42M136.0 181.1h1.42M126.6 182.8h1.42M124.8 194.0h1.42M131.8 179.9h1.42M144.2 183.4h1.42M136.0 205.1h1.42M145.9 202.8h1.42M133.6 192.8h1.42M131.8 188.7h1.42M123.6 174.6h1.42M130.1 191.6h1.42M145.9 186.3h1.42M137.1 188.1h1.42M140.1 179.3h1.42M140.1 185.2h1.42M134.2 183.4h1.42M133.0 189.3h1.42M135.4 201.6h1.42M139.5 189.9h1.42M138.3 166.4h1.42M138.3 174.0h1.42M136.0 167.0h1.42M128.3 176.4h1.42M132.4 191.6h1.42M127.2 189.9h1.42M142.4 178.7h1.42M118.4 188.7h1.42M133.0 177.0h1.42M152.9 169.4h1.42M131.8 169.4h1.42M125.4 175.8h1.42M134.2 201.6h1.42M144.7 169.9h1.42M133.0 199.8h1.42M139.5 200.4h1.42M135.4 183.4h1.42M131.8 184.6h1.42M158.8 178.1h1.42M134.8 185.2h1.42M130.1 192.8h1.42M130.7 185.8h1.42M137.7 196.9h1.42M137.7 199.2h1.42M140.6 189.3h1.42M135.4 189.3h1.42M123.1 184.6h1.42M138.9 189.3h1.42M131.8 172.9h1.42M132.4 189.9h1.42M123.1 187.5h1.42M130.1 175.8h1.42M128.9 210.4h1.42M134.2 174.0h1.42M123.1 175.2h1.42M134.8 188.7h1.42M135.4 162.9h1.42M126.0 176.4h1.42M129.5 168.2h1.42M127.7 174.0h1.42M141.8 184.0h1.42M114.9 189.3h1.42M131.8 198.1h1.42M121.3 194.6h1.42M131.3 199.2h1.42M141.2 192.2h1.42M129.5 179.9h1.42M135.4 198.1h1.42M127.7 179.9h1.42M149.4 178.1h1.42M141.8 202.8h1.42M143.6 194.6h1.42M124.2 188.1h1.42M126.0 194.0h1.42M143.0 195.7h1.42M133.0 169.9h1.42M132.4 184.0h1.42M137.1 171.7h1.42M124.8 186.9h1.42M140.6 177.6h1.42M134.8 201.0h1.42M138.3 191.0h1.42M129.5 175.8h1.42M138.3 185.2h1.42M128.9 171.7h1.42M141.8 185.8h1.42M143.6 191.6h1.42M141.8 188.1h1.42M138.3 162.9h1.42M139.5 181.7h1.42M113.7 191.0h1.42M141.2 188.7h1.42M132.4 198.7h1.42M135.4 170.5h1.42M132.4 191.6h1.42M123.6 178.1h1.42M130.1 187.5h1.42M139.5 189.9h1.42M145.3 193.4h1.42M129.5 178.7h1.42M127.2 187.5h1.42M145.9 171.7h1.42M127.7 169.4h1.42M150.6 191.6h1.42M134.8 184.6h1.42M127.7 167.0h1.42M142.4 175.8h1.42M147.7 185.8h1.42M123.1 203.3h1.42M146.5 197.5h1.42M132.4 194.6h1.42M145.9 164.7h1.42M131.3 184.0h1.42M122.5 191.0h1.42M138.3 189.9h1.42M141.8 189.9h1.42M150.6 182.8h1.42M147.7 205.7h1.42M140.1 202.2h1.42M132.4 184.0h1.42M130.7 174.0h1.42M132.4 209.2h1.42M127.7 178.7h1.42M132.4 199.2h1.42M114.9 207.4h1.42M136.0 174.6h1.42M134.2 188.7h1.42M154.7 181.1h1.42M140.6 191.0h1.42M130.7 189.3h1.42M138.9 207.4h1.42M124.8 192.2h1.42M130.1 185.2h1.42M120.1 198.1h1.42M145.9 182.2h1.42M138.9 181.1h1.42M125.4 211.0h1.42M134.2 175.8h1.42M141.8 179.9h1.42M138.3 185.8h1.42M137.7 173.5h1.42M127.7 161.1h1.42M129.5 197.5h1.42M135.4 176.4h1.42M141.8 179.3h1.42M127.7 181.1h1.42M126.0 174.0h1.42M143.6 172.9h1.42M127.2 186.9h1.42M143.0 211.5h1.42M136.5 194.0h1.42M141.2 194.0h1.42M148.3 168.2h1.42M140.1 185.2h1.42M140.6 171.7h1.42M127.2 194.0h1.42M128.9 182.8h1.42M139.5 185.8h1.42M146.5 184.6h1.42M145.3 178.7h1.42M152.4 167.6h1.42M137.1 192.2h1.42M136.0 169.4h1.42M142.4 171.7h1.42M134.8 181.7h1.42M134.2 177.0h1.42M126.6 188.1h1.42M142.4 196.9h1.42M126.0 188.1h1.42M138.3 187.5h1.42M123.6 185.8h1.42M143.0 195.1h1.42M126.6 164.1h1.42M141.2 189.3h1.42M121.9 174.6h1.42M131.3 171.1h1.42M143.6 185.2h1.42M128.3 181.1h1.42M134.8 192.2h1.42M130.7 198.1h1.42M137.1 184.6h1.42M137.7 208.0h1.42M126.0 195.1h1.42M138.9 202.2h1.42M128.3 186.3h1.42M126.6 168.8h1.42M134.8 172.3h1.42M128.9 193.4h1.42M152.4 196.3h1.42M122.5 177.0h1.42M140.1 182.2h1.42M142.4 188.1h1.42M119.0 165.3h1.42M120.7 181.1h1.42M138.9 203.9h1.42M130.7 210.4h1.42M137.7 184.0h1.42M143.6 206.3h1.42M131.8 179.3h1.42M126.0 175.8h1.42M113.1 159.4h1.42M136.0 196.3h1.42M127.2 181.1h1.42M137.1 211.5h1.42M136.5 189.3h1.42M123.6 187.5h1.42M147.7 164.7h1.42M143.0 202.8h1.42M141.2 181.1h1.42M125.4 183.4h1.42M131.3 160.0h1.42M130.1 195.7h1.42M131.3 196.9h1.42M126.0 178.1h1.42M137.7 186.3h1.42M136.5 189.9h1.42M137.1 196.3h1.42M130.7 186.3h1.42M144.7 205.1h1.42M136.0 182.8h1.42M113.1 178.1h1.42M129.5 179.9h1.42M141.8 175.8h1.42M132.4 196.9h1.42M132.4 188.7h1.42M129.5 175.8h1.42M139.5 189.3h1.42M131.3 162.3h1.42M129.5 182.2h1.42M128.9 191.6h1.42M138.9 193.4h1.42M130.1 176.4h1.42M121.3 195.7h1.42M139.5 206.9h1.42M128.9 180.5h1.42M137.1 194.0h1.42M137.1 167.6h1.42M144.2 162.9h1.42M142.4 192.2h1.42M130.1 185.8h1.42M133.0 187.5h1.42M124.2 178.7h1.42M147.7 182.2h1.42M137.7 194.6h1.42M145.3 205.1h1.42M131.8 182.8h1.42M118.4 166.4h1.42M146.5 199.8h1.42M135.4 192.2h1.42M135.4 193.4h1.42M134.8 187.5h1.42M139.5 211.5h1.42M138.9 186.3h1.42M121.9 191.0h1.42M143.0 164.1h1.42M130.1 178.7h1.42M130.7 177.6h1.42M148.3 185.2h1.42M141.8 189.3h1.42M131.8 177.0h1.42M120.1 205.1h1.42M136.0 172.9h1.42M138.9 180.5h1.42M133.6 188.1h1.42M124.8 171.1h1.42M128.3 192.2h1.42M124.8 192.8h1.42M136.0 182.2h1.42M140.6 207.4h1.42M142.4 186.3h1.42M128.9 188.7h1.42M136.5 174.6h1.42M138.9 166.4h1.42M130.7 178.1h1.42M133.6 181.7h1.42M151.2 179.9h1.42M136.0 194.0h1.42M131.3 172.3h1.42M134.8 164.7h1.42M121.3 201.0h1.42M134.2 178.7h1.42M143.6 179.3h1.42M150.6 172.9h1.42M143.6 195.7h1.42M140.1 180.5h1.42M134.8 188.1h1.42M130.1 161.7h1.42M133.0 198.7h1.42M139.5 189.9h1.42M128.3 191.6h1.42M141.8 199.8h1.42M126.6 183.4h1.42M120.7 183.4h1.42M126.6 194.0h1.42M121.3 190.4h1.42M123.6 182.8h1.42M143.6 185.8h1.42M133.0 179.9h1.42M136.0 193.4h1.42M143.6 196.3h1.42M144.2 185.8h1.42M130.7 206.9h1.42M144.7 167.6h1.42M137.7 182.8h1.42M134.8 205.1h1.42M137.7 180.5h1.42M123.6 167.0h1.42M128.3 201.6h1.42M133.6 191.6h1.42M139.5 171.7h1.42M131.8 194.6h1.42M133.6 173.5h1.42M141.8 169.9h1.42M145.3 183.4h1.42M140.6 179.9h1.42M144.2 172.9h1.42M131.3 181.1h1.42M131.8 174.0h1.42M137.1 186.3h1.42M132.4 185.2h1.42M130.7 194.0h1.42M147.7 180.5h1.42M133.0 169.9h1.42M127.2 170.5h1.42M138.3 182.8h1.42M148.8 203.3h1.42M135.4 195.1h1.42M144.2 178.1h1.42M131.3 196.3h1.42M130.7 172.3h1.42M128.9 196.9h1.42M133.6 181.1h1.42M148.8 194.6h1.42M125.4 192.8h1.42M147.1 182.2h1.42M126.6 189.3h1.42M132.4 172.9h1.42M141.2 184.6h1.42M139.5 198.1h1.42M136.5 211.5h1.42M121.9 193.4h1.42M137.1 186.3h1.42M126.6 174.0h1.42M154.7 197.5h1.42M133.0 166.4h1.42M136.0 176.4h1.42M125.4 189.9h1.42M130.7 171.7h1.42M124.2 203.3h1.42M142.4 198.1h1.42M132.4 178.7h1.42M138.9 179.3h1.42M128.9 170.5h1.42M130.7 169.4h1.42M144.7 190.4h1.42M127.2 192.8h1.42M120.7 189.3h1.42M137.7 188.7h1.42M125.4 178.7h1.42M131.3 189.9h1.42M141.8 168.8h1.42M128.3 185.8h1.42M141.2 202.8h1.42M128.9 201.0h1.42M145.9 179.9h1.42M144.7 181.7h1.42M130.7 201.6h1.42M133.0 206.3h1.42M127.7 168.2h1.42M136.0 180.5h1.42M143.6 188.1h1.42M123.1 199.8h1.42M141.8 175.8h1.42M124.2 192.8h1.42M127.7 182.2h1.42M120.7 211.5h1.42M151.2 190.4h1.42M134.8 184.0h1.42M136.5 181.7h1.42M129.5 197.5h1.42M143.0 193.4h1.42M118.4 172.9h1.42M134.8 188.1h1.42M151.8 169.9h1.42M131.3 177.0h1.42M134.8 170.5h1.42M139.5 169.9h1.42M128.3 177.6h1.42M134.8 174.0h1.42M141.8 191.6h1.42M136.0 194.6h1.42M137.1 182.8h1.42M131.8 172.3h1.42M137.1 194.6h1.42M134.8 162.3h1.42M145.9 162.9h1.42M140.1 194.0h1.42M132.4 192.8h1.42M115.4 196.9h1.42M140.1 182.8h1.42M140.6 171.1h1.42M127.2 179.3h1.42M119.0 192.2h1.42M125.4 176.4h1.42M141.8 177.6h1.42M126.0 169.4h1.42M130.7 172.3h1.42M136.0 195.1h1.42M144.2 190.4h1.42M134.2 172.3h1.42M133.6 172.9h1.42M130.1 178.7h1.42M147.1 191.6h1.42M143.0 171.7h1.42M133.6 183.4h1.42M123.6 160.6h1.42M128.3 171.1h1.42M138.9 190.4h1.42M128.9 195.7h1.42M141.2 172.3h1.42M137.1 176.4h1.42M136.5 194.6h1.42M139.5 181.1h1.42M138.3 179.3h1.42M127.7 191.6h1.42M131.8 187.5h1.42M152.9 198.1h1.42M124.8 194.6h1.42M130.7 178.7h1.42M143.0 184.0h1.42M133.0 184.6h1.42M128.3 169.9h1.42M124.2 174.0h1.42M138.9 196.9h1.42M142.4 167.0h1.42M145.3 196.9h1.42M134.8 188.7h1.42M142.4 184.0h1.42M126.6 191.6h1.42M136.0 191.0h1.42M129.5 199.2h1.42M136.0 181.1h1.42M140.6 182.8h1.42M143.0 182.8h1.42M126.6 207.4h1.42M144.2 196.3h1.42M130.7 174.6h1.42M126.6 181.7h1.42M133.0 177.6h1.42M123.1 185.8h1.42M134.8 188.1h1.42M136.5 211.5h1.42M133.0 164.7h1.42M138.9 197.5h1.42M131.8 190.4h1.42M134.8 177.6h1.42M123.1 184.0h1.42M134.8 179.9h1.42M127.7 186.3h1.42M131.3 196.9h1.42M133.6 168.2h1.42M136.0 200.4h1.42M121.9 181.1h1.42M122.5 202.8h1.42M132.4 190.4h1.42M138.3 199.8h1.42M137.1 192.2h1.42M141.2 198.1h1.42M144.7 186.3h1.42M138.3 175.8h1.42M134.2 193.4h1.42M126.6 194.0h1.42M127.2 209.8h1.42M130.7 162.3h1.42M136.5 183.4h1.42M136.0 198.1h1.42M134.8 171.1h1.42M133.0 182.8h1.42M139.5 209.8h1.42M136.0 202.2h1.42M136.5 175.2h1.42M137.1 202.2h1.42M130.1 199.2h1.42M126.6 194.6h1.42M138.3 189.9h1.42M137.7 188.1h1.42M133.0 175.8h1.42M131.3 179.9h1.42M152.4 194.0h1.42M128.3 187.5h1.42M133.0 206.9h1.42M136.5 181.7h1.42M135.4 181.7h1.42M148.3 188.7h1.42M141.8 189.9h1.42M139.5 186.3h1.42M138.9 176.4h1.42M135.4 202.8h1.42M141.8 178.1h1.42M133.0 194.0h1.42M131.3 182.2h1.42M135.4 171.7h1.42M141.8 202.2h1.42M140.1 175.8h1.42M119.0 190.4h1.42M143.6 181.7h1.42M152.9 194.6h1.42M144.7 184.6h1.42M131.8 180.5h1.42M127.7 210.4h1.42M136.5 183.4h1.42M126.6 184.0h1.42M140.1 173.5h1.42M130.7 177.0h1.42M141.8 193.4h1.42M145.3 192.2h1.42M118.4 185.8h1.42M136.5 177.6h1.42M128.9 193.4h1.42M123.6 166.4h1.42M129.5 181.7h1.42M133.0 182.8h1.42M142.4 175.8h1.42M122.5 187.5h1.42M143.0 178.1h1.42M150.0 176.4h1.42M138.9 206.3h1.42M138.9 194.6h1.42M134.2 199.8h1.42M125.4 186.3h1.42M138.9 196.9h1.42M137.7 194.6h1.42M140.1 199.8h1.42M154.7 211.5h1.42M140.1 183.4h1.42M137.7 188.7h1.42M146.5 185.2h1.42M125.4 169.9h1.42M131.8 186.3h1.42M129.5 193.4h1.42M140.1 179.3h1.42M131.8 199.2h1.42M148.3 200.4h1.42M146.5 181.1h1.42M140.6 202.2h1.42M131.3 206.3h1.42M139.5 191.0h1.42M140.6 174.6h1.42M126.0 202.8h1.42M137.1 184.0h1.42M140.1 181.7h1.42M136.0 187.5h1.42M146.5 179.9h1.42M144.2 198.1h1.42M128.3 195.1h1.42M135.4 199.8h1.42M127.7 192.8h1.42M138.9 177.0h1.42M127.7 184.0h1.42M141.8 196.3h1.42M137.7 181.1h1.42M141.8 211.5h1.42M133.6 183.4h1.42M123.1 179.3h1.42M148.3 199.2h1.42M133.0 194.6h1.42M145.3 185.8h1.42M137.7 183.4h1.42M139.5 191.0h1.42M148.8 195.7h1.42M137.1 194.6h1.42M145.3 182.2h1.42M123.1 191.0h1.42M141.2 195.7h1.42M132.4 194.6h1.42M134.8 175.8h1.42M137.1 177.0h1.42M147.7 183.4h1.42M120.1 188.1h1.42M134.8 196.3h1.42M128.9 193.4h1.42M143.6 184.6h1.42M131.3 186.3h1.42M138.3 206.3h1.42M131.3 178.7h1.42M139.5 189.3h1.42M142.4 203.9h1.42M131.3 189.9h1.42M134.8 162.3h1.42M123.6 190.4h1.42M137.1 181.7h1.42M141.2 184.6h1.42M130.1 198.1h1.42M143.0 191.6h1.42M118.4 182.8h1.42M120.1 196.3h1.42M123.6 191.0h1.42M130.7 186.9h1.42M134.8 189.3h1.42M133.6 188.7h1.42M134.2 182.2h1.42M140.1 180.5h1.42M130.7 186.3h1.42M124.8 175.2h1.42M124.8 171.7h1.42M151.2 201.0h1.42M116.0 183.4h1.42M133.0 185.8h1.42M145.9 184.6h1.42M138.3 186.3h1.42M127.7 186.3h1.42M134.8 186.9h1.42M141.2 177.0h1.42M144.2 196.9h1.42M127.7 178.1h1.42M140.6 198.1h1.42M136.5 164.1h1.42M143.0 174.0h1.42M145.3 197.5h1.42M131.8 184.0h1.42M123.1 178.1h1.42M137.7 190.4h1.42M148.3 174.0h1.42M140.1 186.9h1.42M136.5 160.6h1.42M152.9 181.1h1.42M126.6 178.7h1.42M141.8 192.2h1.42M130.1 196.3h1.42M134.8 176.4h1.42M135.4 204.5h1.42M146.5 179.3h1.42M127.2 162.3h1.42M121.9 203.9h1.42M138.3 185.2h1.42M130.7 178.7h1.42M137.7 177.6h1.42M126.0 173.5h1.42M131.8 201.6h1.42M142.4 185.2h1.42M133.0 206.9h1.42M139.5 184.0h1.42M131.8 195.7h1.42M122.5 181.7h1.42M142.4 183.4h1.42M136.0 203.9h1.42M142.4 182.8h1.42M119.0 199.2h1.42M121.3 185.8h1.42M117.8 177.6h1.42M127.7 191.6h1.42M142.4 179.3h1.42M138.9 200.4h1.42M134.2 196.9h1.42M135.4 186.9h1.42M140.6 192.8h1.42M132.4 192.2h1.42M137.7 182.8h1.42M135.4 196.3h1.42M117.2 183.4h1.42M131.3 192.8h1.42M145.3 175.2h1.42M131.3 186.9h1.42M133.6 191.0h1.42M129.5 177.0h1.42M130.7 181.1h1.42M143.0 179.9h1.42M132.4 194.6h1.42M126.6 177.6h1.42M110.2 191.0h1.42M130.1 203.3h1.42M119.0 189.9h1.42M120.1 167.6h1.42M140.6 187.5h1.42M140.1 198.1h1.42M119.5 182.8h1.42M141.2 198.7h1.42M138.3 193.4h1.42M128.3 191.0h1.42M140.1 182.8h1.42M121.9 180.5h1.42M124.8 183.4h1.42M123.1 186.9h1.42M126.0 192.2h1.42M141.2 191.0h1.42M124.2 182.8h1.42M125.4 186.9h1.42M127.2 190.4h1.42M136.0 167.6h1.42M131.8 177.6h1.42M141.2 177.0h1.42M128.9 184.0h1.42M124.2 182.8h1.42M130.7 183.4h1.42M134.8 176.4h1.42M137.1 158.8h1.42M127.2 146.5h1.42M79.1 162.3h1.42M120.7 156.5h1.42M92.0 157.6h1.42M162.9 147.1h1.42M109.0 157.0h1.42M110.8 154.7h1.42M122.5 148.8h1.42M115.4 165.8h1.42M119.0 155.3h1.42M158.8 150.6h1.42M126.0 153.5h1.42M141.2 157.6h1.42M79.1 183.4h1.42M77.9 189.3h1.42M79.7 195.7h1.42M75.6 210.4h1.42M80.3 178.1h1.42M78.5 211.5h1.42M80.9 189.9h1.42M63.3 171.7h1.42M58.6 171.1h1.42M77.9 202.2h1.42M82.6 186.9h1.42M60.4 172.9h1.42M63.3 170.5h1.42M72.7 169.9h1.42M47.5 174.0h1.42M42.8 172.9h1.42M78.5 179.9h1.42M48.1 174.0h1.42M73.2 168.2h1.42M51.0 172.9h1.42M76.8 209.2h1.42M43.4 175.2h1.42M80.9 202.2h1.42M76.8 208.0h1.42M77.9 185.2h1.42M45.1 174.0h1.42M80.9 169.9h1.42M60.9 169.9h1.42M79.7 188.1h1.42M77.4 202.8h1.42M79.1 182.2h1.42M78.5 187.5h1.42M47.5 174.6h1.42M77.4 204.5h1.42M83.2 175.8h1.42M75.0 168.2h1.42M78.5 204.5h1.42M75.0 169.9h1.42M80.3 205.7h1.42M75.6 171.7h1.42M76.2 171.1h1.42M80.3 188.1h1.42M79.7 191.0h1.42M69.7 170.5h1.42M77.9 172.9h1.42M79.7 188.1h1.42M81.5 200.4h1.42M59.2 173.5h1.42M78.5 210.4h1.42M82.6 185.8h1.42M68.6 169.9h1.42M48.6 171.1h1.42M63.9 169.4h1.42M83.2 191.0h1.42M83.2 203.9h1.42M83.2 189.3h1.42M76.8 204.5h1.42M77.9 174.0h1.42M77.4 208.6h1.42M55.7 172.3h1.42M80.3 207.4h1.42M68.6 169.4h1.42M46.9 174.0h1.42M80.3 201.0h1.42M80.9 182.8h1.42M76.8 168.8h1.42M79.1 205.1h1.42M80.9 194.6h1.42M58.6 171.1h1.42M74.4 168.2h1.42M49.2 174.0h1.42M79.7 197.5h1.42M78.5 183.4h1.42M43.9 172.3h1.42M73.2 168.8h1.42M79.1 193.4h1.42M76.8 210.4h1.42M48.6 170.5h1.42M80.3 185.2h1.42M43.4 174.6h1.42M79.1 181.1h1.42M58.0 171.1h1.42M78.5 187.5h1.42M40.4 174.0h1.42M77.9 167.6h1.42M78.5 186.3h1.42M79.7 196.9h1.42M77.9 168.2h1.42M69.1 168.2h1.42M55.7 175.2h1.42M41.0 171.7h1.42M78.5 188.1h1.42M77.9 201.6h1.42M69.1 169.4h1.42M43.9 172.3h1.42M77.4 207.4h1.42M80.9 199.8h1.42M79.1 192.2h1.42M54.5 174.6h1.42M45.1 174.0h1.42M80.3 177.6h1.42M65.0 168.2h1.42M79.7 185.2h1.42M83.2 177.0h1.42M48.6 174.6h1.42M78.5 185.8h1.42M76.8 208.6h1.42M48.6 171.1h1.42M77.9 195.7h1.42M57.4 171.7h1.42M79.1 210.4h1.42M78.5 172.9h1.42M78.5 184.6h1.42M81.5 211.5h1.42M58.0 172.3h1.42M55.1 171.7h1.42M84.4 201.0h1.42M78.5 177.6h1.42M79.1 175.8h1.42M70.3 161.7h1.42M82.0 172.9h1.42M64.5 167.6h1.42M77.4 174.0h1.42M80.3 169.4h1.42M64.5 165.8h1.42M78.5 209.8h1.42M79.7 186.3h1.42M73.8 170.5h1.42M79.1 195.1h1.42M83.8 198.7h1.42M46.9 168.8h1.42M78.5 191.6h1.42M78.5 184.0h1.42M79.7 195.7h1.42M72.1 168.2h1.42M77.9 172.9h1.42M64.5 170.5h1.42M78.5 163.5h1.42M82.0 172.3h1.42M79.1 200.4h1.42M79.7 181.1h1.42M74.4 161.7h1.42M79.1 195.1h1.42M51.6 175.2h1.42M78.5 186.3h1.42M79.7 183.4h1.42M77.9 173.5h1.42M79.7 210.4h1.42M43.4 174.6h1.42M59.2 172.9h1.42M39.8 174.6h1.42M79.1 176.4h1.42M80.9 191.6h1.42M80.3 167.6h1.42M71.5 168.2h1.42M69.1 169.4h1.42M66.2 169.9h1.42M79.1 180.5h1.42M82.0 191.6h1.42M78.5 194.6h1.42M77.4 208.6h1.42M80.9 195.1h1.42M53.9 168.2h1.42M49.2 172.3h1.42M73.2 164.1h1.42M76.8 167.0h1.42M79.7 185.8h1.42M79.7 205.1h1.42M82.0 202.8h1.42M41.0 174.0h1.42M76.2 207.4h1.42M80.3 170.5h1.42M76.8 170.5h1.42M46.9 174.6h1.42M79.7 196.9h1.42M79.1 201.6h1.42M79.1 201.0h1.42M86.7 182.8h1.42M75.0 167.6h1.42M82.0 198.7h1.42M79.1 185.8h1.42M78.5 175.2h1.42M77.4 203.3h1.42M41.6 172.9h1.42M60.9 169.9h1.42M79.7 174.0h1.42M77.9 191.6h1.42M81.5 204.5h1.42M79.1 199.8h1.42M71.5 166.4h1.42M75.6 211.0h1.42M46.9 170.5h1.42M60.4 171.1h1.42M78.5 181.1h1.42M80.3 196.9h1.42M82.6 182.2h1.42M79.7 180.5h1.42M83.8 203.3h1.42M60.4 171.1h1.42M78.5 194.6h1.42M80.9 184.6h1.42M83.8 195.7h1.42M79.1 184.6h1.42M80.3 178.7h1.42M83.2 194.0h1.42M80.3 196.9h1.42M41.0 171.7h1.42M66.2 169.4h1.42M65.6 170.5h1.42M63.9 169.4h1.42M49.8 172.9h1.42M82.6 172.9h1.42M65.6 169.9h1.42M39.3 173.5h1.42M70.3 169.9h1.42M78.5 190.4h1.42M58.0 173.5h1.42M72.1 169.9h1.42M73.2 169.9h1.42M80.9 189.9h1.42M79.7 195.7h1.42M82.6 186.3h1.42M74.4 170.5h1.42M76.8 207.4h1.42M40.4 165.8h1.42M60.4 168.2h1.42M79.1 182.8h1.42M42.2 175.2h1.42M83.8 202.8h1.42M81.5 202.8h1.42M51.6 174.6h1.42M79.1 182.8h1.42M72.1 168.2h1.42M81.5 182.2h1.42M78.5 201.0h1.42M81.5 165.8h1.42M46.9 172.9h1.42M45.1 174.6h1.42M78.5 175.8h1.42M77.4 172.9h1.42M40.4 174.0h1.42M59.2 173.5h1.42M50.4 173.5h1.42M70.3 169.4h1.42M82.0 170.5h1.42M52.7 172.9h1.42M80.3 192.2h1.42M80.3 179.3h1.42M55.7 174.0h1.42M87.3 199.2h1.42M82.6 189.3h1.42M75.0 167.6h1.42M78.5 181.7h1.42M79.1 198.7h1.42M79.1 196.3h1.42M48.6 174.0h1.42M49.8 174.0h1.42M49.2 174.6h1.42M77.9 174.6h1.42M58.0 173.5h1.42M77.4 203.9h1.42M72.7 169.9h1.42M74.4 169.4h1.42M82.0 178.7h1.42M51.6 174.6h1.42M45.1 171.7h1.42M67.4 167.0h1.42M39.3 175.2h1.42M58.0 168.8h1.42M81.5 188.1h1.42M82.0 198.7h1.42M58.6 172.3h1.42M76.2 165.3h1.42M79.1 174.6h1.42M69.1 165.3h1.42M81.5 194.6h1.42M78.5 200.4h1.42M79.1 190.4h1.42M78.5 195.7h1.42M82.6 187.5h1.42M45.7 174.6h1.42M84.4 204.5h1.42M79.1 195.1h1.42M81.5 171.7h1.42M86.1 179.3h1.42M62.7 169.9h1.42M45.1 169.9h1.42M78.5 199.2h1.42M64.5 168.8h1.42M69.7 169.9h1.42M53.3 174.6h1.42M46.3 174.6h1.42M78.5 177.0h1.42M77.9 171.7h1.42M78.5 177.6h1.42M80.3 179.9h1.42M60.9 172.3h1.42M77.9 204.5h1.42M78.5 195.7h1.42M78.5 208.0h1.42M71.5 162.3h1.42M76.8 169.9h1.42M77.9 184.0h1.42M76.8 210.4h1.42M70.9 167.0h1.42M57.4 172.9h1.42M79.7 197.5h1.42M53.9 173.5h1.42M79.1 203.9h1.42M76.8 172.3h1.42M59.2 173.5h1.42M80.3 178.7h1.42M73.8 169.9h1.42M39.3 167.6h1.42M85.0 186.9h1.42M77.9 175.2h1.42M79.1 187.5h1.42M78.5 185.2h1.42M62.1 166.4h1.42M81.5 203.9h1.42M71.5 169.9h1.42M46.9 174.6h1.42M77.9 187.5h1.42M62.1 171.7h1.42M42.8 175.2h1.42M79.1 199.2h1.42M78.5 185.8h1.42M79.1 190.4h1.42M43.9 170.5h1.42M82.6 202.2h1.42M77.9 171.7h1.42M60.4 172.3h1.42M65.0 170.5h1.42M79.1 208.6h1.42M62.7 169.9h1.42M75.6 209.8h1.42M76.8 208.0h1.42M80.9 176.4h1.42M40.4 172.9h1.42M77.9 204.5h1.42M58.6 173.5h1.42M65.0 167.6h1.42M69.1 169.9h1.42M82.6 191.6h1.42M79.1 181.1h1.42M80.9 185.8h1.42M80.3 175.2h1.42M63.9 171.1h1.42M45.7 174.0h1.42M48.6 172.9h1.42M74.4 168.8h1.42M83.2 185.2h1.42M77.9 174.0h1.42M82.6 201.0h1.42M79.1 184.0h1.42M81.5 203.9h1.42M76.2 209.2h1.42M80.3 179.9h1.42M58.0 173.5h1.42M76.2 207.4h1.42M75.0 168.2h1.42M80.3 192.8h1.42M76.2 206.9h1.42M71.5 169.9h1.42M60.4 172.9h1.42M83.2 167.0h1.42M81.5 183.4h1.42M76.2 171.1h1.42M52.2 167.6h1.42M78.5 211.5h1.42M60.9 170.5h1.42M52.2 174.0h1.42M43.4 174.0h1.42M85.0 211.5h1.42M80.3 188.1h1.42M49.8 175.2h1.42M76.8 209.8h1.42M46.3 174.6h1.42M46.3 170.5h1.42M79.7 199.8h1.42M78.5 196.9h1.42M83.2 201.6h1.42M75.6 211.5h1.42M49.2 167.6h1.42M78.5 185.2h1.42M43.4 171.1h1.42M56.3 173.5h1.42M68.0 165.3h1.42M82.0 175.8h1.42M84.4 184.0h1.42M41.0 171.1h1.42M43.9 171.7h1.42M78.5 181.7h1.42M52.2 174.0h1.42M45.1 175.2h1.42M79.1 198.7h1.42M55.1 175.2h1.42M70.3 169.4h1.42M77.9 193.4h1.42M65.6 167.0h1.42M53.3 175.2h1.42M79.1 187.5h1.42M79.7 182.2h1.42M77.9 211.0h1.42M70.3 165.8h1.42M78.5 194.0h1.42M78.5 201.6h1.42M81.5 186.9h1.42M80.9 207.4h1.42M79.1 201.0h1.42M65.0 169.9h1.42M77.9 174.6h1.42M78.5 181.1h1.42M80.3 189.3h1.42M76.2 170.5h1.42M63.9 166.4h1.42M82.6 182.2h1.42M77.9 200.4h1.42M46.3 169.4h1.42M47.5 171.1h1.42M86.7 186.9h1.42M66.8 169.4h1.42M77.4 206.9h1.42M66.2 169.9h1.42M78.5 188.1h1.42M60.4 172.9h1.42M67.4 168.8h1.42M78.5 187.5h1.42M78.5 196.3h1.42M69.7 169.9h1.42M55.7 170.5h1.42M78.5 176.4h1.42M78.5 175.8h1.42M41.6 168.2h1.42M49.2 171.7h1.42M76.2 170.5h1.42M83.2 196.9h1.42M77.9 211.5h1.42M81.5 169.4h1.42M60.9 167.6h1.42M48.1 173.5h1.42M53.3 174.0h1.42M76.8 206.9h1.42M80.3 191.0h1.42M51.6 175.2h1.42M79.1 180.5h1.42M79.1 194.0h1.42M77.9 185.2h1.42M83.8 183.4h1.42M76.2 170.5h1.42M48.1 174.0h1.42M52.2 171.1h1.42M79.1 187.5h1.42M47.5 174.6h1.42M77.9 206.9h1.42M80.9 186.3h1.42M78.5 195.7h1.42M79.1 177.0h1.42M84.4 202.2h1.42M77.4 174.0h1.42M78.5 178.7h1.42M79.7 186.3h1.42M79.1 184.6h1.42M73.2 168.8h1.42M79.7 188.7h1.42M78.5 185.8h1.42M77.9 187.5h1.42M78.5 178.7h1.42M47.5 171.7h1.42M53.3 173.5h1.42M79.7 203.3h1.42M78.5 197.5h1.42M79.1 175.2h1.42M72.1 169.9h1.42M85.6 180.5h1.42M64.5 168.8h1.42M67.4 160.6h1.42M81.5 192.8h1.42M82.0 182.2h1.42M90.2 201.6h1.42M56.8 172.3h1.42M80.3 200.4h1.42M69.7 169.9h1.42M58.6 170.5h1.42M80.3 188.1h1.42M72.1 167.6h1.42M65.6 164.1h1.42M86.7 178.1h1.42M39.8 158.8h1.42M55.1 168.8h1.42M81.5 182.2h1.42M76.2 153.5h1.42M79.7 165.3h1.42M84.4 158.2h1.42M77.4 169.4h1.42M43.4 158.8h1.42M65.0 169.9h1.42M80.3 184.0h1.42M82.0 169.4h1.42M79.7 206.3h1.42M58.0 169.9h1.42M85.0 211.0h1.42M49.2 173.5h1.42M83.8 169.4h1.42M80.3 178.7h1.42M83.8 210.4h1.42M81.5 179.9h1.42M75.6 170.5h1.42M66.8 169.9h1.42M79.1 169.9h1.42M86.1 188.1h1.42M87.9 166.4h1.42M85.0 205.7h1.42M77.9 205.7h1.42M54.5 156.5h1.42M43.9 168.2h1.42M77.9 174.0h1.42M77.9 170.5h1.42M86.7 184.6h1.42M64.5 169.9h1.42M82.6 167.6h1.42M56.3 152.9h1.42M56.3 171.1h1.42M79.7 196.3h1.42M44.5 174.0h1.42M60.4 166.4h1.42M83.2 194.6h1.42M72.7 168.2h1.42M76.8 167.6h1.42M87.3 190.4h1.42M40.4 155.9h1.42M46.3 169.4h1.42M60.4 169.9h1.42M80.3 152.4h1.42M52.2 152.4h1.42M53.9 158.2h1.42M88.5 183.4h1.42M51.0 165.3h1.42M76.8 170.5h1.42M77.4 157.6h1.42M63.3 168.2h1.42M83.8 194.6h1.42M43.4 168.8h1.42M47.5 164.7h1.42M77.9 169.4h1.42M82.6 150.0h1.42M82.0 185.2h1.42M85.6 187.5h1.42M63.3 150.6h1.42M78.5 205.1h1.42M43.9 163.5h1.42M56.8 169.4h1.42M48.6 166.4h1.42M52.7 169.4h1.42M77.9 172.9h1.42M82.6 175.8h1.42M65.6 161.7h1.42M87.9 168.8h1.42M41.6 172.9h1.42M78.5 156.5h1.42M83.2 206.3h1.42M76.2 156.5h1.42M77.9 206.3h1.42M62.1 156.5h1.42M83.2 187.5h1.42M42.2 166.4h1.42M76.2 209.8h1.42M48.1 170.5h1.42M82.0 201.0h1.42M63.9 159.4h1.42M65.6 147.7h1.42M83.8 171.7h1.42M53.3 173.5h1.42M45.1 159.4h1.42M41.6 172.3h1.42M45.7 160.0h1.42M60.9 165.3h1.42M59.8 168.8h1.42M77.9 211.5h1.42M80.9 178.7h1.42M39.8 169.9h1.42M85.0 175.2h1.42M67.4 160.6h1.42M49.2 166.4h1.42M40.4 146.5h1.42M82.0 181.1h1.42M51.0 165.8h1.42M78.5 178.7h1.42M67.4 165.8h1.42M79.7 205.1h1.42M86.7 183.4h1.42M86.1 195.1h1.42M41.0 174.0h1.42M82.6 162.3h1.42M79.7 162.9h1.42M86.1 201.0h1.42M85.0 209.8h1.42M72.7 168.8h1.42M88.5 206.9h1.42M82.6 202.8h1.42M82.0 193.4h1.42M73.8 159.4h1.42M41.0 165.3h1.42M79.7 181.7h1.42M49.8 168.2h1.42M58.0 172.3h1.42M88.5 181.7h1.42M77.4 157.6h1.42M73.8 154.1h1.42M78.5 174.0h1.42M51.0 148.3h1.42M69.7 154.1h1.42M80.3 193.4h1.42M77.4 204.5h1.42M51.0 174.0h1.42M83.2 211.5h1.42M82.6 178.7h1.42M82.0 189.3h1.42M50.4 152.9h1.42M88.5 164.1h1.42M87.9 189.3h1.42M65.6 165.8h1.42M68.0 162.3h1.42M68.0 164.1h1.42M72.7 169.9h1.42M86.7 169.9h1.42M61.5 151.8h1.42M68.0 167.6h1.42M79.1 177.0h1.42M79.1 164.1h1.42M55.7 161.7h1.42M79.1 164.7h1.42M68.0 160.6h1.42M83.8 179.3h1.42M77.9 209.8h1.42M84.4 184.0h1.42M63.9 164.7h1.42M80.9 165.8h1.42M55.7 158.2h1.42M51.6 168.2h1.42M82.0 211.5h1.42M69.1 154.7h1.42M45.1 167.0h1.42M78.5 202.2h1.42M86.7 155.9h1.42M78.5 170.5h1.42M65.6 161.7h1.42M87.9 158.2h1.42M82.0 188.7h1.42M53.9 169.9h1.42M59.8 172.9h1.42M45.7 174.0h1.42M69.7 165.8h1.42M85.0 195.7h1.42M82.0 205.1h1.42M86.7 189.9h1.42M80.3 199.8h1.42M69.7 151.2h1.42M85.6 203.9h1.42M57.4 151.8h1.42M64.5 160.0h1.42M51.6 172.9h1.42M84.4 168.8h1.42M64.5 167.6h1.42M72.7 159.4h1.42M66.2 167.6h1.42M83.8 180.5h1.42M59.2 168.8h1.42M78.5 195.7h1.42M87.3 154.7h1.42M69.1 146.5h1.42M39.3 160.0h1.42M86.1 211.0h1.42M44.5 162.9h1.42M43.9 174.6h1.42M55.1 169.9h1.42M86.7 197.5h1.42M39.3 158.8h1.42M88.5 203.9h1.42M77.9 202.8h1.42M83.8 186.9h1.42M84.4 185.2h1.42M79.1 148.3h1.42M48.1 152.4h1.42M74.4 168.8h1.42M79.1 178.1h1.42M43.9 158.2h1.42M80.9 194.6h1.42M83.8 160.0h1.42M85.6 183.4h1.42M56.8 154.1h1.42M82.6 179.9h1.42M66.2 160.6h1.42M39.8 169.4h1.42M86.1 172.3h1.42M60.4 162.9h1.42M59.2 168.8h1.42M87.3 169.4h1.42M41.6 174.6h1.42M45.1 164.1h1.42M50.4 150.6h1.42M64.5 170.5h1.42M84.4 162.9h1.42M43.4 169.9h1.42M56.8 158.2h1.42M67.4 152.9h1.42M75.0 164.1h1.42M86.7 157.6h1.42M40.4 154.1h1.42M54.5 174.0h1.42M79.7 201.6h1.42M53.9 150.0h1.42M77.9 160.6h1.42M76.8 170.5h1.42M53.3 173.5h1.42M74.4 168.2h1.42M74.4 167.0h1.42M80.3 202.2h1.42M73.8 162.9h1.42M87.9 167.0h1.42M83.2 188.7h1.42M84.4 182.8h1.42M78.5 211.5h1.42M79.1 196.3h1.42M40.4 168.2h1.42M77.9 173.5h1.42M51.0 172.9h1.42M43.9 160.6h1.42M70.9 161.1h1.42M42.8 163.5h1.42M85.6 209.8h1.42M54.5 154.1h1.42M87.9 181.7h1.42M82.6 189.9h1.42M84.4 196.3h1.42M81.5 173.5h1.42M72.1 160.0h1.42M74.4 167.6h1.42M69.1 166.4h1.42M76.8 211.5h1.42M75.0 168.2h1.42M41.6 166.4h1.42M41.6 171.7h1.42M86.7 195.1h1.42M44.5 146.5h1.42M65.6 167.6h1.42M80.9 184.0h1.42M73.2 164.1h1.42M39.8 163.5h1.42M41.6 174.0h1.42M55.1 159.4h1.42M63.9 158.2h1.42M80.3 192.8h1.42M39.3 171.1h1.42M63.3 150.0h1.42M67.4 161.7h1.42M86.1 167.6h1.42M58.6 167.6h1.42M43.4 161.7h1.42M80.3 196.3h1.42M83.2 195.1h1.42M81.5 161.1h1.42M87.3 195.1h1.42M80.9 178.1h1.42M75.0 170.5h1.42M46.3 168.2h1.42M67.4 158.2h1.42M53.3 167.0h1.42M63.9 161.7h1.42M79.7 188.1h1.42M80.3 183.4h1.42M83.8 195.7h1.42M66.2 157.0h1.42M80.9 187.5h1.42M78.5 165.3h1.42M47.5 167.0h1.42M75.6 170.5h1.42M64.5 168.8h1.42M42.8 172.3h1.42M76.8 162.9h1.42M77.4 170.5h1.42M42.8 171.7h1.42M65.0 161.7h1.42M41.0 152.4h1.42M62.7 149.4h1.42M83.8 153.5h1.42M85.0 205.1h1.42M80.9 209.2h1.42M85.0 205.1h1.42M79.7 195.7h1.42M86.1 202.8h1.42M47.5 174.6h1.42M87.9 203.3h1.42M52.2 164.7h1.42M84.4 196.3h1.42M82.0 198.7h1.42M85.0 164.1h1.42M86.1 179.3h1.42M69.7 157.6h1.42M81.5 209.8h1.42M78.5 189.3h1.42M71.5 149.4h1.42M80.3 202.2h1.42M86.7 185.2h1.42M81.5 209.8h1.42M85.0 145.9h1.42M63.3 168.8h1.42M79.7 191.6h1.42M80.9 210.4h1.42M62.1 168.8h1.42M87.3 154.7h1.42M82.0 211.5h1.42M83.8 176.4h1.42M72.1 157.0h1.42M68.6 161.1h1.42M83.8 179.9h1.42M58.0 168.2h1.42M86.1 169.9h1.42M78.5 150.6h1.42M65.6 168.2h1.42M77.9 209.8h1.42M55.7 170.5h1.42M69.1 145.9h1.42M58.0 161.7h1.42M67.4 158.8h1.42M85.0 190.4h1.42M69.1 164.1h1.42M43.4 173.5h1.42M82.6 167.0h1.42M43.4 158.2h1.42M44.5 172.9h1.42M45.7 174.0h1.42M79.7 208.6h1.42M78.5 181.7h1.42M80.3 185.8h1.42M73.8 148.3h1.42M86.1 195.1h1.42M66.8 153.5h1.42M56.8 172.9h1.42M86.1 211.5h1.42M84.4 172.3h1.42M83.8 204.5h1.42M43.9 148.3h1.42M46.3 169.4h1.42M79.1 209.8h1.42M69.7 164.7h1.42M85.0 168.8h1.42M56.3 166.4h1.42M79.7 182.8h1.42M56.3 167.6h1.42M82.6 166.4h1.42M75.0 167.0h1.42M69.1 166.4h1.42M49.8 174.0h1.42M42.8 173.5h1.42M43.9 174.6h1.42M80.9 182.2h1.42M64.5 160.6h1.42M42.8 172.3h1.42M80.3 205.1h1.42M83.8 152.9h1.42M82.6 154.1h1.42M70.9 165.8h1.42M39.3 164.7h1.42M59.8 145.9h1.42M52.2 156.5h1.42M43.9 166.4h1.42M41.6 149.4h1.42M41.6 161.7h1.42M66.8 155.9h1.42M72.7 157.0h1.42M84.4 199.8h1.42M83.2 197.5h1.42M87.9 163.5h1.42M83.8 208.6h1.42M80.9 211.5h1.42M52.2 171.7h1.42M61.5 171.1h1.42M55.7 162.3h1.42M68.6 168.2h1.42M77.4 209.2h1.42M82.0 147.7h1.42M42.8 169.4h1.42M48.6 171.7h1.42M69.1 165.3h1.42M75.6 211.5h1.42M83.8 167.0h1.42M87.9 168.2h1.42M52.2 166.4h1.42M59.2 151.8h1.42M49.2 171.7h1.42M48.1 171.7h1.42M80.3 193.4h1.42M79.7 196.3h1.42M49.2 169.9h1.42M74.4 160.0h1.42M75.6 166.4h1.42M88.5 202.2h1.42M70.9 151.8h1.42M80.3 170.5h1.42M76.8 168.2h1.42M85.0 188.1h1.42M77.9 161.7h1.42M59.2 172.3h1.42M82.0 187.5h1.42M86.7 155.3h1.42M83.2 198.7h1.42M79.1 201.6h1.42M69.7 169.4h1.42M53.3 171.1h1.42M79.7 183.4h1.42M59.2 152.9h1.42M78.5 156.5h1.42M52.2 146.5h1.42M50.4 158.2h1.42M87.9 196.9h1.42M40.4 167.0h1.42M62.7 157.0h1.42M86.1 188.7h1.42M85.0 193.4h1.42M81.5 191.6h1.42M73.2 160.6h1.42M79.7 183.4h1.42M81.5 168.8h1.42M79.1 198.7h1.42M87.9 196.9h1.42M54.5 168.8h1.42M81.5 165.3h1.42M51.6 173.5h1.42M40.4 162.3h1.42M45.1 163.5h1.42M89.1 195.7h1.42M82.6 191.6h1.42M40.4 160.6h1.42M75.6 169.9h1.42M87.9 175.8h1.42M81.5 185.8h1.42M87.9 199.2h1.42M39.8 165.8h1.42M82.6 196.9h1.42M86.7 206.9h1.42M48.6 165.3h1.42M83.2 154.1h1.42M44.5 171.7h1.42M51.0 158.2h1.42M80.3 165.3h1.42M85.6 177.6h1.42M83.8 205.7h1.42M82.0 190.4h1.42M78.5 150.0h1.42M87.3 188.1h1.42M77.4 165.8h1.42M76.8 207.4h1.42M53.3 171.1h1.42M77.4 151.2h1.42M81.5 174.0h1.42M82.0 205.1h1.42M63.3 167.0h1.42M84.4 165.3h1.42M46.3 172.3h1.42M78.5 201.6h1.42M82.6 165.3h1.42M82.0 195.1h1.42M80.3 201.6h1.42M78.5 151.8h1.42M59.2 171.7h1.42M52.7 157.6h1.42M82.6 194.6h1.42M81.5 200.4h1.42M67.4 168.8h1.42M64.5 159.4h1.42M83.2 203.9h1.42M69.7 150.0h1.42M48.6 172.3h1.42M82.6 172.9h1.42M56.3 167.6h1.42M45.1 164.7h1.42M79.7 189.9h1.42M83.8 154.7h1.42M87.3 202.8h1.42M48.6 174.6h1.42M85.0 197.5h1.42M50.4 160.0h1.42M68.6 160.6h1.42M83.2 145.3h1.42M40.4 157.6h1.42M50.4 147.7h1.42M85.6 182.8h1.42M42.2 172.3h1.42M66.8 155.9h1.42M82.6 179.3h1.42M43.4 167.0h1.42M87.9 199.2h1.42M42.2 158.2h1.42M63.9 169.4h1.42M63.9 160.0h1.42M79.1 159.4h1.42M85.6 167.6h1.42M59.2 170.5h1.42M87.3 177.6h1.42M73.8 154.7h1.42M48.1 165.3h1.42M70.3 167.0h1.42M46.3 158.2h1.42M79.7 199.2h1.42M82.6 175.8h1.42M80.3 164.1h1.42M85.6 194.6h1.42M78.5 175.8h1.42M55.1 168.2h1.42M39.3 168.2h1.42M45.1 169.9h1.42M87.9 193.4h1.42M45.1 155.9h1.42M82.0 188.7h1.42M84.4 178.7h1.42M84.4 181.1h1.42M76.2 164.1h1.42M62.7 170.5h1.42M59.2 168.8h1.42M82.0 182.8h1.42M55.7 166.4h1.42M72.1 167.6h1.42M43.9 174.0h1.42M46.9 152.4h1.42M55.1 164.1h1.42M79.1 195.7h1.42M52.2 165.3h1.42M85.6 167.0h1.42M47.5 160.6h1.42M84.4 174.0h1.42M70.9 157.0h1.42M79.1 172.9h1.42M68.6 160.0h1.42M79.1 192.8h1.42M82.0 156.5h1.42M63.3 160.6h1.42M65.6 169.9h1.42M79.1 178.7h1.42M81.5 162.3h1.42M66.2 154.7h1.42M85.0 178.7h1.42M59.2 169.4h1.42M43.9 156.5h1.42M56.8 155.3h1.42M52.7 169.9h1.42M79.7 191.6h1.42M76.8 208.6h1.42M80.9 188.1h1.42M86.1 169.4h1.42M82.0 155.3h1.42M87.3 190.4h1.42M74.4 163.5h1.42M41.6 166.4h1.42M81.5 208.0h1.42M82.0 188.1h1.42M85.0 205.7h1.42M74.4 164.7h1.42M63.9 160.6h1.42M67.4 164.7h1.42M78.5 157.0h1.42M82.6 205.7h1.42M45.1 162.9h1.42M48.1 152.4h1.42M77.4 167.0h1.42M80.9 190.4h1.42M76.8 211.0h1.42M79.7 171.1h1.42M66.8 158.2h1.42M76.2 158.8h1.42M59.2 171.7h1.42M82.0 188.7h1.42M65.0 161.7h1.42M69.7 169.4h1.42M86.1 156.5h1.42M58.0 161.1h1.42M82.0 168.2h1.42M87.3 165.8h1.42M65.0 148.8h1.42M69.7 165.3h1.42M80.9 172.3h1.42M86.1 159.4h1.42M66.8 160.6h1.42M62.7 165.8h1.42M82.6 198.7h1.42M86.1 191.6h1.42M45.7 161.7h1.42M42.2 165.3h1.42M79.1 174.6h1.42M83.2 184.0h1.42M82.6 195.7h1.42M47.5 168.8h1.42M68.6 158.8h1.42M53.3 167.0h1.42M87.3 189.9h1.42M88.5 205.7h1.42M87.3 169.9h1.42M84.4 208.0h1.42M60.4 171.7h1.42M78.5 168.2h1.42M46.3 154.7h1.42M76.2 149.4h1.42M87.3 211.5h1.42M68.0 162.9h1.42M80.3 184.0h1.42M68.6 156.5h1.42M87.9 193.4h1.42M60.9 167.0h1.42M51.6 167.6h1.42M85.0 187.5h1.42M49.8 161.7h1.42M49.2 172.9h1.42M47.5 163.5h1.42M48.6 170.5h1.42M65.6 164.7h1.42M69.7 167.0h1.42M75.0 145.9h1.42M74.4 167.6h1.42M80.9 211.5h1.42M80.3 178.1h1.42M85.0 197.5h1.42M86.1 188.7h1.42M82.0 202.2h1.42M79.1 169.9h1.42M85.0 184.6h1.42M46.3 174.0h1.42M76.2 153.5h1.42M72.7 163.5h1.42M85.0 211.0h1.42M42.2 164.7h1.42M88.5 177.0h1.42M75.6 211.5h1.42M84.4 172.9h1.42M82.6 169.9h1.42M43.4 173.5h1.42M87.3 148.3h1.42M52.2 158.8h1.42M51.6 146.5h1.42M82.6 148.8h1.42M80.3 147.7h1.42M72.7 155.9h1.42M83.2 175.8h1.42M86.1 172.3h1.42M41.6 164.7h1.42M43.9 169.4h1.42M59.8 172.3h1.42M78.5 186.3h1.42M87.9 208.0h1.42M88.5 197.5h1.42M79.7 211.5h1.42M73.8 162.9h1.42M55.7 154.7h1.42M82.6 177.0h1.42M66.8 158.8h1.42M71.5 162.3h1.42M84.4 175.8h1.42M82.6 193.4h1.42M70.3 158.8h1.42M72.1 159.4h1.42M39.8 171.7h1.42M49.2 166.4h1.42M48.6 169.4h1.42M75.0 149.4h1.42M79.1 181.1h1.42M76.2 164.7h1.42M80.9 205.1h1.42M58.6 165.3h1.42M77.4 204.5h1.42M81.5 188.7h1.42M79.1 196.9h1.42M87.9 174.0h1.42M45.7 172.3h1.42M43.4 146.5h1.42M87.3 169.9h1.42M82.0 211.5h1.42M77.4 162.3h1.42M49.8 157.0h1.42M57.4 164.1h1.42M79.1 167.6h1.42M80.3 201.6h1.42M58.0 169.9h1.42M41.6 166.4h1.42M43.9 169.9h1.42M85.6 172.3h1.42M71.5 169.4h1.42M77.9 204.5h1.42M39.3 169.9h1.42M62.1 147.1h1.42M81.5 176.4h1.42M75.6 161.7h1.42M47.5 147.7h1.42M41.0 174.0h1.42M63.3 167.0h1.42M85.6 209.2h1.42M59.2 172.3h1.42M56.3 172.3h1.42M40.4 164.1h1.42M54.5 172.9h1.42M82.0 194.0h1.42M47.5 150.6h1.42M61.5 157.6h1.42M45.7 160.6h1.42M73.2 163.5h1.42" stroke="#000" stroke-width="1.42" fill="none"/>
<path d="M195.7 213.1L195.7 172.6L196.7 172.6L197.7 172.6L198.7 172.6L199.7 172.6L200.7 172.6L201.7 172.6L202.7 172.6L203.7 172.6L204.7 172.6L205.7 172.6L206.7 172.6L207.7 172.6L208.7 172.6L209.7 172.6L210.7 172.6L211.7 172.6L212.7 172.6L213.7 172.6L214.7 172.6L215.7 172.5L216.7 172.3L217.7 172.1L218.7 172.0L219.7 171.8L220.7 171.6L221.7 171.4L222.7 171.3L223.7 171.1L224.7 170.9L225.7 170.7L226.7 170.6L227.7 170.4L228.7 170.2L229.7 170.0L230.7 169.9L231.7 169.7L232.7 169.5L233.7 169.3L234.7 169.2L235.7 169.0L236.7 168.8L237.7 168.7L238.7 168.6L239.2 168.6L239.5 168.6L239.9 168.7L240.2 168.9L240.5 169.1L240.7 169.3L240.9 169.6L241.1 169.9L241.2 170.3L241.2 170.6L241.2 171.6L241.2 172.6L241.2 173.6L241.2 174.6L241.2 175.6L241.2 176.6L241.2 177.6L241.2 178.6L241.2 179.6L241.2 180.6L241.2 181.6L241.2 182.6L241.2 183.6L241.2 184.6L241.2 185.6L241.2 186.6L241.2 187.6L241.2 188.6L241.2 189.6L241.2 190.6L241.2 191.6L241.2 192.6L241.2 193.6L241.2 194.6L241.2 195.6L241.2 196.6L241.2 197.6L240.9 198.6L240.4 199.6L239.9 200.6L239.4 201.6L238.9 202.6L238.4 203.6L237.9 204.6L237.4 205.6L236.9 206.6L236.4 207.6L235.9 208.6L235.4 209.6L234.9 210.6L234.4 211.6L233.9 212.6L233.7 213.1Z" fill="#000"/>
<path d="M210.4 107.2h1.42M203.9 114.3h1.42M208.6 108.4h1.42M226.2 111.9h1.42M216.8 107.8h1.42M213.3 124.2h1.42M225.0 116.0h1.42M201.0 110.2h1.42M212.1 111.3h1.42M222.7 124.8h1.42M207.4 111.3h1.42M218.0 110.2h1.42M211.5 101.4h1.42M226.8 115.4h1.42M219.8 104.3h1.42M216.8 107.2h1.42M212.7 124.8h1.42M209.8 102.5h1.42M203.3 116.0h1.42M206.9 104.9h1.42M198.1 97.9h1.42M213.3 103.7h1.42M218.0 103.7h1.42M232.6 107.2h1.42M218.0 105.5h1.42M228.0 104.9h1.42M206.3 106.7h1.42M209.2 116.0h1.42M218.0 113.7h1.42M209.2 102.5h1.42M222.1 108.4h1.42M222.7 104.9h1.42M213.9 116.6h1.42M211.0 97.9h1.42M212.7 112.5h1.42M208.0 113.7h1.42M228.5 105.5h1.42M215.6 104.9h1.42M228.0 110.8h1.42M207.4 97.3h1.42M231.5 103.1h1.42M211.5 97.9h1.42M214.5 111.3h1.42M220.3 100.8h1.42M224.4 105.5h1.42M227.4 93.2h1.42M216.2 103.7h1.42M206.9 115.4h1.42M228.5 111.3h1.42M213.9 117.8h1.42M205.7 87.9h1.42M204.5 88.5h1.42M211.5 120.7h1.42M196.3 111.3h1.42M212.7 98.4h1.42M211.0 114.3h1.42M227.4 111.9h1.42M222.1 111.3h1.42M213.9 111.9h1.42M196.3 114.9h1.42M205.7 113.1h1.42M211.0 110.2h1.42M220.3 111.9h1.42M200.4 110.2h1.42M212.1 109.0h1.42M202.8 109.0h1.42M226.8 106.7h1.42M211.0 109.6h1.42M206.9 113.7h1.42M216.2 107.8h1.42M208.6 107.8h1.42M211.0 120.7h1.42M215.6 121.3h1.42M209.8 109.6h1.42M209.8 103.1h1.42M228.5 119.0h1.42M215.1 97.3h1.42M209.8 119.5h1.42M228.0 117.8h1.42M219.2 104.9h1.42M226.2 107.2h1.42M209.8 100.8h1.42M213.9 109.6h1.42M219.2 100.2h1.42M220.9 98.4h1.42M212.1 109.6h1.42M232.1 103.7h1.42M205.7 107.2h1.42M220.3 106.1h1.42M213.3 102.5h1.42M213.3 109.6h1.42M213.9 101.4h1.42M235.0 111.3h1.42M209.8 104.3h1.42M199.8 116.6h1.42M224.4 104.9h1.42M218.0 113.1h1.42M219.2 114.3h1.42M221.5 107.2h1.42M230.9 99.0h1.42M209.2 113.1h1.42M212.7 99.0h1.42M221.5 110.8h1.42M213.3 97.3h1.42M216.8 104.9h1.42M204.5 107.2h1.42M210.4 103.7h1.42M222.1 109.6h1.42M196.3 111.9h1.42M218.6 109.0h1.42M196.3 109.6h1.42M235.0 117.8h1.42M225.0 113.1h1.42M228.5 110.8h1.42M229.1 104.3h1.42M208.0 99.6h1.42M215.6 103.7h1.42M207.4 114.3h1.42M219.8 109.0h1.42M212.7 113.1h1.42M219.8 97.9h1.42M211.0 94.3h1.42M216.2 109.0h1.42M208.0 89.7h1.42M210.4 105.5h1.42M208.6 96.1h1.42M213.3 108.4h1.42M219.2 110.8h1.42M224.4 98.4h1.42M208.0 116.0h1.42M222.1 110.2h1.42M208.0 106.7h1.42M227.4 100.8h1.42M215.1 101.4h1.42M208.0 105.5h1.42M229.7 116.0h1.42M215.1 133.6h1.42M196.3 141.2h1.42M196.3 113.7h1.42M220.3 101.4h1.42M212.1 116.0h1.42M229.1 137.1h1.42M224.4 122.5h1.42M229.7 133.0h1.42M234.4 117.8h1.42M229.7 89.7h1.42M222.1 104.3h1.42M196.3 96.7h1.42M227.4 89.1h1.42M230.3 113.1h1.42M225.0 134.2h1.42M199.2 126.0h1.42M224.4 123.6h1.42M233.2 124.8h1.42M223.9 112.5h1.42M212.1 141.8h1.42M196.3 129.5h1.42M204.5 127.2h1.42M218.6 133.0h1.42M232.6 134.8h1.42M214.5 116.6h1.42M200.4 92.0h1.42M237.3 131.8h1.42M225.0 110.8h1.42M235.6 113.1h1.42M219.2 111.9h1.42M200.4 113.7h1.42M239.7 102.0h1.42M212.7 123.1h1.42M222.7 136.5h1.42M222.7 116.6h1.42M230.9 100.2h1.42M225.0 111.9h1.42M238.5 114.3h1.42M253.7 118.4h1.42M258.4 119.5h1.42M254.3 117.2h1.42M255.5 119.0h1.42M256.1 116.0h1.42M244.9 114.9h1.42M259.0 114.9h1.42M264.3 117.2h1.42M258.4 123.6h1.42M256.7 109.0h1.42M280.7 121.3h1.42M259.0 121.3h1.42M274.8 117.2h1.42M249.0 121.3h1.42M247.9 124.2h1.42M242.6 116.0h1.42M246.1 120.1h1.42M247.3 116.6h1.42M247.9 206.9h1.42M243.8 198.7h1.42M243.8 198.1h1.42M254.3 175.8h1.42M252.0 184.0h1.42M261.9 195.1h1.42M269.0 183.4h1.42M247.9 179.3h1.42M257.3 192.2h1.42M248.5 196.3h1.42M250.8 194.6h1.42M245.5 205.7h1.42M261.9 203.9h1.42M245.5 192.8h1.42M266.6 201.6h1.42M258.4 205.7h1.42M280.7 165.3h1.42M248.5 200.4h1.42M272.5 192.8h1.42M245.5 207.4h1.42M277.2 198.1h1.42M247.3 191.6h1.42M249.0 207.4h1.42M247.3 203.9h1.42M249.6 189.9h1.42M280.7 198.7h1.42M256.1 180.5h1.42M249.0 182.8h1.42M243.8 179.9h1.42M257.8 198.1h1.42M248.5 207.4h1.42M264.3 197.5h1.42M259.0 203.3h1.42M252.6 204.5h1.42M246.7 167.6h1.42M271.9 179.3h1.42M248.5 194.0h1.42M252.6 192.8h1.42M242.6 201.6h1.42M284.2 201.6h1.42M253.7 209.8h1.42M259.0 202.2h1.42M259.6 208.6h1.42M252.6 177.6h1.42M273.1 199.2h1.42M242.6 201.0h1.42M251.4 199.8h1.42M254.9 197.5h1.42M271.3 195.7h1.42M244.9 206.9h1.42M256.7 179.9h1.42M247.9 204.5h1.42M273.7 192.2h1.42M260.8 190.4h1.42M275.4 196.9h1.42M270.1 208.6h1.42M242.0 196.9h1.42M261.9 184.0h1.42M256.7 206.3h1.42M265.5 175.2h1.42M271.3 181.1h1.42M263.7 169.9h1.42M253.2 185.8h1.42M247.9 204.5h1.42M261.9 194.6h1.42M255.5 202.8h1.42M257.3 194.0h1.42M261.4 185.2h1.42M261.4 201.0h1.42M253.7 179.9h1.42M244.9 168.2h1.42M260.8 206.3h1.42M266.0 187.5h1.42M260.2 191.6h1.42M267.8 195.1h1.42M253.7 182.2h1.42M247.3 194.0h1.42M258.4 184.6h1.42M243.8 195.7h1.42M262.5 196.3h1.42M244.9 195.1h1.42M247.9 194.0h1.42M245.5 184.0h1.42M246.1 185.8h1.42M242.0 162.3h1.42M243.2 206.9h1.42M270.7 201.0h1.42M269.0 185.2h1.42M246.7 202.2h1.42M245.5 192.2h1.42M259.0 209.8h1.42M255.5 195.1h1.42M277.8 165.3h1.42M275.4 198.1h1.42M270.7 190.4h1.42M251.4 208.6h1.42M251.4 176.4h1.42M251.4 188.7h1.42M260.2 186.3h1.42M244.9 187.5h1.42M247.3 207.4h1.42M269.6 205.1h1.42M282.5 201.6h1.42M249.0 179.9h1.42M261.4 202.2h1.42M266.0 202.8h1.42M260.2 189.3h1.42M260.8 206.9h1.42M258.4 179.3h1.42M243.8 198.1h1.42M246.1 202.2h1.42M248.5 198.1h1.42M249.6 196.9h1.42M244.4 188.7h1.42M257.3 207.4h1.42M256.1 208.0h1.42M254.9 206.9h1.42M262.5 208.0h1.42M278.3 201.6h1.42M242.6 184.6h1.42M242.6 164.7h1.42M249.6 196.3h1.42M247.3 189.3h1.42M270.7 188.1h1.42M273.7 168.8h1.42M250.8 182.8h1.42M244.4 192.8h1.42M275.4 196.9h1.42M263.1 195.7h1.42M242.6 193.4h1.42M254.3 196.9h1.42M253.7 178.1h1.42M259.0 196.3h1.42M268.4 196.9h1.42M254.3 190.4h1.42M263.1 194.6h1.42M250.8 184.6h1.42M270.7 196.3h1.42M250.2 206.3h1.42M242.6 204.5h1.42M243.8 168.2h1.42M267.2 208.6h1.42M243.2 175.2h1.42M244.4 179.9h1.42M265.5 201.0h1.42M296.5 179.9h1.42M245.5 197.5h1.42M285.4 185.8h1.42M263.7 188.7h1.42M246.1 186.3h1.42M267.2 186.3h1.42M250.2 198.7h1.42M268.4 186.9h1.42M243.8 167.0h1.42M246.7 174.0h1.42M269.6 198.7h1.42M264.9 204.5h1.42M255.5 206.3h1.42M244.9 188.7h1.42M273.1 202.2h1.42M273.1 186.9h1.42M261.4 202.8h1.42M243.2 197.5h1.42M250.2 198.7h1.42M264.9 174.6h1.42M267.8 195.7h1.42M244.9 193.4h1.42M256.7 201.0h1.42M261.4 202.2h1.42M270.7 201.0h1.42M250.2 192.2h1.42M247.9 170.5h1.42M246.7 196.9h1.42M250.2 184.0h1.42M249.6 195.1h1.42M249.6 212.1h1.42M252.0 189.9h1.42M244.4 193.4h1.42M265.5 191.6h1.42M261.4 194.6h1.42M255.5 182.8h1.42M260.2 201.6h1.42M244.9 196.9h1.42M249.6 196.3h1.42M251.4 189.9h1.42M253.7 202.2h1.42M272.5 210.4h1.42M267.8 182.8h1.42M267.8 182.8h1.42M253.7 181.1h1.42M256.1 188.1h1.42M245.5 198.7h1.42M257.3 186.3h1.42M251.4 197.5h1.42M248.5 181.1h1.42M246.7 163.5h1.42M253.7 185.8h1.42M250.2 204.5h1.42M264.3 176.4h1.42M250.2 209.8h1.42M275.4 211.0h1.42M253.2 189.9h1.42M252.6 192.2h1.42M290.7 197.5h1.42M252.6 189.3h1.42M259.0 196.9h1.42M264.9 198.7h1.42M246.7 196.9h1.42M256.1 171.7h1.42M261.4 201.6h1.42M244.9 180.5h1.42M242.6 164.7h1.42M248.5 202.2h1.42M279.5 180.5h1.42M245.5 194.0h1.42M258.4 187.5h1.42M247.9 198.7h1.42M277.8 190.4h1.42M247.3 202.8h1.42M249.6 192.8h1.42M247.9 212.1h1.42M269.0 201.0h1.42M257.8 201.6h1.42M261.9 203.9h1.42M247.9 202.8h1.42M257.8 199.2h1.42M250.2 189.3h1.42M250.8 162.9h1.42M270.7 194.0h1.42M244.4 211.5h1.42M244.9 199.8h1.42M258.4 192.8h1.42M267.8 202.2h1.42M264.9 207.4h1.42M242.0 173.5h1.42M275.4 182.2h1.42M259.6 197.5h1.42M242.6 174.0h1.42M256.1 202.2h1.42M253.7 187.5h1.42M249.0 194.6h1.42M242.6 201.0h1.42M253.7 211.0h1.42M249.6 209.8h1.42M273.7 205.7h1.42M262.5 202.2h1.42M250.8 198.7h1.42M290.1 202.8h1.42M268.4 177.0h1.42M260.2 201.0h1.42M249.6 193.4h1.42M269.6 208.0h1.42M292.4 198.1h1.42M269.6 165.3h1.42M258.4 203.3h1.42M242.6 202.8h1.42M261.4 187.5h1.42M275.4 191.6h1.42M250.2 203.9h1.42M266.6 201.6h1.42M246.1 176.4h1.42M249.0 187.5h1.42M259.0 175.8h1.42M258.4 173.5h1.42M266.0 203.3h1.42M262.5 196.3h1.42M246.7 175.8h1.42M242.0 204.5h1.42M246.1 201.0h1.42M279.5 209.8h1.42M252.0 197.5h1.42M275.4 202.2h1.42M242.6 192.8h1.42M252.6 203.3h1.42M246.1 202.8h1.42M264.3 195.1h1.42M253.2 195.7h1.42M281.9 203.9h1.42M256.7 198.1h1.42M260.2 195.1h1.42M277.8 176.4h1.42M246.1 198.7h1.42M258.4 204.5h1.42M267.8 178.1h1.42M253.2 194.6h1.42M288.3 177.6h1.42M251.4 191.6h1.42M244.4 188.7h1.42M250.8 206.3h1.42M252.6 199.2h1.42M257.8 195.1h1.42M259.6 192.2h1.42M254.3 208.6h1.42M251.4 198.7h1.42M296.5 172.3h1.42M250.8 169.4h1.42M244.9 202.8h1.42M253.2 205.7h1.42M246.1 175.8h1.42M245.5 191.6h1.42M266.6 196.3h1.42M264.3 205.1h1.42M246.1 162.9h1.42M248.5 197.5h1.42M270.1 172.3h1.42M259.6 199.8h1.42M243.8 202.8h1.42M260.2 211.0h1.42M261.4 196.3h1.42M273.1 199.2h1.42M243.8 196.9h1.42M251.4 194.0h1.42M260.8 200.4h1.42M288.3 185.8h1.42M257.8 203.9h1.42M242.0 192.2h1.42M246.1 188.1h1.42M280.1 185.2h1.42M243.2 191.0h1.42M249.6 206.9h1.42M259.0 186.3h1.42M262.5 206.9h1.42M270.7 212.1h1.42M261.4 198.1h1.42M272.5 204.5h1.42M242.6 188.1h1.42M259.0 191.0h1.42M247.3 210.4h1.42M263.7 174.6h1.42M265.5 196.9h1.42M249.0 192.8h1.42M261.4 182.8h1.42M258.4 189.3h1.42M258.4 189.3h1.42M244.4 197.5h1.42M266.0 212.1h1.42M250.8 202.2h1.42M283.6 196.9h1.42M243.2 206.3h1.42M271.3 211.5h1.42M267.8 161.1h1.42M247.3 185.2h1.42M259.6 196.3h1.42M265.5 172.3h1.42M247.9 174.0h1.42M284.2 202.8h1.42M259.0 175.8h1.42M248.5 195.7h1.42M270.1 184.6h1.42M260.8 194.6h1.42M249.6 199.8h1.42M263.7 169.9h1.42M253.2 202.2h1.42M259.6 174.6h1.42M266.0 179.3h1.42M258.4 205.7h1.42M262.5 186.3h1.42M259.6 193.4h1.42M244.4 174.6h1.42M260.2 209.8h1.42M244.4 169.4h1.42M252.6 201.0h1.42M271.3 184.0h1.42M286.6 178.1h1.42M256.7 194.6h1.42M250.2 209.8h1.42M250.8 185.8h1.42M253.7 166.4h1.42M250.2 199.8h1.42M259.6 179.3h1.42M280.7 193.4h1.42M250.2 202.8h1.42M252.6 203.3h1.42M247.9 202.2h1.42M264.3 194.6h1.42M250.8 165.8h1.42M249.0 198.7h1.42M251.4 198.1h1.42M249.0 191.0h1.42M260.8 205.1h1.42M263.1 205.1h1.42M270.7 173.5h1.42M252.0 175.2h1.42M252.6 195.7h1.42M252.0 195.7h1.42M255.5 179.9h1.42M245.5 193.4h1.42M257.8 205.1h1.42M247.9 208.0h1.42M250.2 208.6h1.42M260.2 179.9h1.42M260.8 184.6h1.42M288.3 186.9h1.42M242.0 184.6h1.42M250.2 208.6h1.42M273.1 179.9h1.42M261.4 176.4h1.42M274.2 178.7h1.42M243.8 203.9h1.42M247.3 199.8h1.42M257.8 188.7h1.42M242.6 192.2h1.42M286.6 204.5h1.42M256.7 177.0h1.42M256.1 178.7h1.42M274.2 202.8h1.42M272.5 208.0h1.42M248.5 177.6h1.42M259.0 202.2h1.42M259.6 200.4h1.42M259.6 184.6h1.42M253.2 206.9h1.42M251.4 191.6h1.42M248.5 178.1h1.42M246.7 195.7h1.42M257.3 197.5h1.42M257.8 165.3h1.42M247.9 183.4h1.42M250.8 199.2h1.42M253.2 189.3h1.42M277.2 175.2h1.42M243.8 193.4h1.42M242.6 186.9h1.42M254.3 177.6h1.42M244.9 196.9h1.42M250.8 205.7h1.42M256.1 186.3h1.42M269.0 207.4h1.42M250.8 205.1h1.42M256.1 201.6h1.42M242.6 170.5h1.42M244.9 205.1h1.42M249.0 188.1h1.42M248.5 167.0h1.42M244.4 192.8h1.42M242.6 199.8h1.42M252.6 210.4h1.42M243.2 191.6h1.42M244.9 206.9h1.42M256.7 181.7h1.42M244.4 181.1h1.42M244.9 178.7h1.42M249.0 209.2h1.42M245.5 191.6h1.42M250.8 190.4h1.42M269.6 195.7h1.42M242.0 165.3h1.42M270.7 200.4h1.42M271.3 178.1h1.42M242.6 165.8h1.42M251.4 208.6h1.42M246.7 162.9h1.42M246.7 194.0h1.42M246.7 203.3h1.42M269.6 179.3h1.42M256.7 202.2h1.42M247.3 199.8h1.42M253.7 202.8h1.42M249.0 211.0h1.42M254.9 196.9h1.42M243.2 190.4h1.42M253.2 195.1h1.42M250.2 182.2h1.42M278.3 203.3h1.42M264.3 201.0h1.42M258.4 203.3h1.42M244.9 199.2h1.42M284.2 204.5h1.42M260.8 202.8h1.42M264.9 185.8h1.42M246.7 199.8h1.42M273.1 199.8h1.42M270.1 183.4h1.42M259.0 176.4h1.42M254.3 167.0h1.42M250.8 160.6h1.42M286.6 185.8h1.42M254.3 183.4h1.42M262.5 179.3h1.42M273.1 184.6h1.42M247.9 185.2h1.42M249.6 199.2h1.42M247.3 181.7h1.42M271.9 168.2h1.42M244.9 205.1h1.42M249.6 197.5h1.42M249.6 195.7h1.42M253.2 203.3h1.42M246.1 203.3h1.42M249.0 164.1h1.42M283.0 192.2h1.42M284.2 193.4h1.42M257.8 168.8h1.42M260.8 187.5h1.42M254.9 201.0h1.42M257.3 203.3h1.42M251.4 195.1h1.42M267.8 177.6h1.42M284.2 189.3h1.42M273.1 195.1h1.42M250.8 184.6h1.42M299.4 177.6h1.42M286.0 188.7h1.42M253.2 179.9h1.42M265.5 190.4h1.42M246.1 208.6h1.42M242.6 178.7h1.42M254.3 169.4h1.42M255.5 203.3h1.42M263.7 187.5h1.42M245.5 184.0h1.42M252.6 198.7h1.42M252.6 184.0h1.42M253.2 199.2h1.42M247.9 171.1h1.42M249.6 191.6h1.42M249.0 196.3h1.42M245.5 191.6h1.42M273.1 199.8h1.42M260.2 188.1h1.42M257.3 209.2h1.42M243.2 178.1h1.42M250.8 181.1h1.42M264.9 199.2h1.42M258.4 175.2h1.42M249.0 208.0h1.42M252.0 176.4h1.42M245.5 207.4h1.42M248.5 207.4h1.42M276.6 185.8h1.42M256.7 179.9h1.42M274.2 196.3h1.42M269.0 208.0h1.42M242.6 199.2h1.42M256.7 173.5h1.42M256.1 194.6h1.42M261.9 178.7h1.42M275.4 208.0h1.42M274.8 202.2h1.42M247.9 194.6h1.42M244.9 185.2h1.42M265.5 168.2h1.42M251.4 167.0h1.42M276.6 205.7h1.42M253.2 209.2h1.42M266.6 186.9h1.42M267.8 174.6h1.42M263.1 202.2h1.42M298.9 169.9h1.42M280.1 164.7h1.42M297.7 205.1h1.42M247.9 174.0h1.42M310.0 211.0h1.42M244.9 203.9h1.42M290.7 207.4h1.42M314.7 185.8h1.42M266.0 174.6h1.42M263.7 183.4h1.42M262.5 193.4h1.42M307.1 171.1h1.42M289.5 174.0h1.42M312.3 169.9h1.42M259.0 172.3h1.42M293.0 200.4h1.42M291.8 172.9h1.42M311.2 169.4h1.42M301.8 174.6h1.42M304.1 200.4h1.42M260.2 173.5h1.42M301.2 201.6h1.42M246.7 168.2h1.42M283.0 178.7h1.42M242.0 169.9h1.42M301.8 198.7h1.42M248.5 162.3h1.42M305.3 210.4h1.42M261.4 185.2h1.42M288.9 168.8h1.42M251.4 195.1h1.42M279.5 168.8h1.42M310.6 169.9h1.42M281.9 177.6h1.42M307.6 188.7h1.42M301.8 182.2h1.42M247.3 165.8h1.42M286.6 165.3h1.42M280.1 168.8h1.42M250.8 175.8h1.42M285.4 182.2h1.42M303.0 181.7h1.42M281.9 191.6h1.42M274.2 168.8h1.42M295.3 171.1h1.42M307.6 171.7h1.42M278.9 172.3h1.42M305.3 161.1h1.42M286.6 198.1h1.42M254.3 167.6h1.42M252.6 192.8h1.42M308.8 209.8h1.42M271.9 165.8h1.42M253.7 179.9h1.42M243.8 203.9h1.42M292.4 178.7h1.42M292.4 209.2h1.42M266.6 168.2h1.42M269.6 167.6h1.42M288.3 170.5h1.42M307.1 212.1h1.42M246.7 189.3h1.42M257.3 174.6h1.42M244.9 199.2h1.42M296.5 199.8h1.42M311.2 206.9h1.42M274.2 178.1h1.42M246.1 209.8h1.42M293.6 175.2h1.42M243.8 186.9h1.42M306.5 210.4h1.42M287.7 175.2h1.42M278.3 166.4h1.42M315.3 174.6h1.42M281.9 178.7h1.42M298.3 209.8h1.42M283.6 196.3h1.42M317.0 198.1h1.42M297.1 207.4h1.42M277.2 172.3h1.42M248.5 171.7h1.42M259.0 164.1h1.42M312.9 196.3h1.42M304.1 212.1h1.42M303.5 187.5h1.42M304.1 195.7h1.42M287.7 167.6h1.42M296.5 209.2h1.42M297.7 176.4h1.42M257.8 185.2h1.42M298.3 190.4h1.42M254.9 165.3h1.42M312.9 182.8h1.42M247.3 174.6h1.42M246.1 206.9h1.42M278.9 201.6h1.42M273.7 192.8h1.42M263.1 167.6h1.42M263.1 201.0h1.42M309.4 207.4h1.42M269.6 183.4h1.42M301.2 162.9h1.42M256.7 195.7h1.42M307.1 185.8h1.42M266.6 161.7h1.42M311.2 178.1h1.42M263.7 199.8h1.42M312.3 186.3h1.42M243.8 209.8h1.42M284.2 199.8h1.42M277.2 196.9h1.42M281.9 202.2h1.42M311.2 194.0h1.42M287.7 187.5h1.42M297.7 186.3h1.42M258.4 177.0h1.42M311.8 193.4h1.42M284.8 212.1h1.42M302.4 162.3h1.42M317.0 206.3h1.42M298.9 172.9h1.42M257.8 181.7h1.42M253.7 210.4h1.42M260.2 184.0h1.42M278.9 161.1h1.42M315.3 184.0h1.42M281.9 185.8h1.42M252.6 177.6h1.42M290.7 183.4h1.42M300.0 188.7h1.42M291.8 169.9h1.42M288.3 178.1h1.42M301.8 181.7h1.42M296.5 188.7h1.42M296.5 184.0h1.42M298.9 176.4h1.42M301.8 195.1h1.42M302.4 187.5h1.42M290.7 185.8h1.42M297.7 189.9h1.42M303.0 186.3h1.42M286.6 199.2h1.42M298.9 182.8h1.42M287.1 172.9h1.42M296.5 189.3h1.42M303.0 190.4h1.42M299.4 194.0h1.42M297.1 191.6h1.42M297.7 183.4h1.42M288.9 202.8h1.42M306.5 177.6h1.42M287.7 177.0h1.42M281.9 192.8h1.42M293.6 176.4h1.42M290.1 198.7h1.42M300.6 174.0h1.42M294.2 186.9h1.42M288.3 186.9h1.42M287.7 179.3h1.42M287.1 163.5h1.42M283.6 188.1h1.42M295.9 187.5h1.42M310.0 184.6h1.42M288.9 178.7h1.42M289.5 169.4h1.42M294.2 177.0h1.42M294.8 163.5h1.42M295.9 204.5h1.42M307.1 180.5h1.42M295.3 198.7h1.42M296.5 182.8h1.42M296.5 202.2h1.42M287.1 177.6h1.42M288.3 176.4h1.42M277.8 175.2h1.42M290.7 185.8h1.42M290.1 174.0h1.42M295.3 168.2h1.42M304.7 202.2h1.42M278.9 200.4h1.42M302.4 177.0h1.42M310.6 195.1h1.42M297.1 186.9h1.42M310.0 208.0h1.42M302.4 208.0h1.42M300.0 194.0h1.42M289.5 198.1h1.42M291.8 187.5h1.42M303.0 202.8h1.42M304.7 180.5h1.42M307.6 197.5h1.42M309.4 186.3h1.42M281.9 185.2h1.42M294.2 192.2h1.42M292.4 192.8h1.42M299.4 169.4h1.42M317.6 186.3h1.42M290.1 177.0h1.42M290.7 181.7h1.42M303.0 198.1h1.42M288.9 184.0h1.42M293.6 178.1h1.42M305.9 186.3h1.42M308.8 183.4h1.42M310.6 185.8h1.42M305.9 195.1h1.42M294.8 185.2h1.42M296.5 179.9h1.42M307.1 182.2h1.42M293.6 172.9h1.42M303.0 201.6h1.42M292.4 192.2h1.42M305.3 163.5h1.42M303.0 183.4h1.42M286.6 199.8h1.42M293.0 165.8h1.42M293.0 180.5h1.42M303.5 205.7h1.42M294.2 189.9h1.42M278.9 194.0h1.42M296.5 173.5h1.42M298.3 203.3h1.42M286.6 191.6h1.42M307.6 201.0h1.42M306.5 173.5h1.42M285.4 178.7h1.42M297.1 174.0h1.42M276.6 189.3h1.42M289.5 174.0h1.42M286.0 185.8h1.42M295.3 202.8h1.42M297.7 194.6h1.42M298.3 177.6h1.42M292.4 191.0h1.42M292.4 174.0h1.42M300.6 194.6h1.42M291.8 171.1h1.42M308.8 193.4h1.42M295.9 196.9h1.42M295.3 169.9h1.42M301.8 196.3h1.42M294.2 201.0h1.42M304.7 203.3h1.42M303.5 202.2h1.42M298.9 193.4h1.42M287.1 194.0h1.42M295.9 178.1h1.42M294.8 208.0h1.42M298.9 186.9h1.42M298.3 197.5h1.42M294.8 193.4h1.42M295.9 186.3h1.42M295.9 172.9h1.42M289.5 193.4h1.42M294.8 187.5h1.42M291.2 174.6h1.42M296.5 204.5h1.42M286.0 190.4h1.42M311.8 181.1h1.42M305.3 179.9h1.42M299.4 201.6h1.42M292.4 181.7h1.42M300.6 181.7h1.42M293.6 163.5h1.42M305.3 183.4h1.42M297.7 178.7h1.42M296.5 196.9h1.42M280.1 202.2h1.42M290.1 198.7h1.42M298.9 168.2h1.42M286.6 189.9h1.42M294.8 203.3h1.42M303.5 183.4h1.42M308.8 184.0h1.42M292.4 185.8h1.42M271.3 169.4h1.42M296.5 181.7h1.42M301.2 184.0h1.42M283.6 188.7h1.42M307.1 187.5h1.42M295.9 186.3h1.42M309.4 181.7h1.42M295.9 209.2h1.42M297.7 201.6h1.42M287.7 195.1h1.42M302.4 189.3h1.42M298.9 203.9h1.42M290.7 177.0h1.42M301.8 195.7h1.42M293.0 195.1h1.42M310.0 185.2h1.42M301.2 165.8h1.42M296.5 168.8h1.42M294.8 201.6h1.42M311.8 173.5h1.42M297.1 194.6h1.42M300.6 184.6h1.42M288.3 181.7h1.42M303.0 190.4h1.42M297.7 202.2h1.42M290.7 195.7h1.42M288.3 201.6h1.42M305.3 174.0h1.42M296.5 179.3h1.42M301.8 200.4h1.42M302.4 186.3h1.42M309.4 182.8h1.42M307.6 168.8h1.42M293.0 181.1h1.42M294.8 180.5h1.42M280.1 192.8h1.42M296.5 185.2h1.42M298.9 165.8h1.42M283.6 163.5h1.42M296.5 198.7h1.42M296.5 169.9h1.42M295.9 168.2h1.42M297.7 170.5h1.42M287.1 178.7h1.42M296.5 189.9h1.42M313.5 185.2h1.42M295.9 178.1h1.42M291.8 180.5h1.42M294.2 175.8h1.42M308.8 182.2h1.42M284.8 177.6h1.42M311.8 186.9h1.42M291.8 173.5h1.42M300.6 180.5h1.42M302.4 188.1h1.42M289.5 174.6h1.42M293.6 179.9h1.42M303.0 191.6h1.42M295.3 182.2h1.42M283.6 181.7h1.42M300.0 182.8h1.42M286.6 186.3h1.42M295.9 188.7h1.42M283.6 182.8h1.42M303.5 206.3h1.42M297.7 167.0h1.42M305.9 199.8h1.42M297.1 183.4h1.42M290.7 181.1h1.42M280.1 186.3h1.42M295.9 184.6h1.42M286.6 169.9h1.42M291.8 188.7h1.42M277.8 191.0h1.42M280.7 172.3h1.42M296.5 192.8h1.42M298.3 186.3h1.42M312.9 191.6h1.42M307.1 191.0h1.42M287.7 185.8h1.42M303.5 205.7h1.42M294.2 184.6h1.42M281.3 167.6h1.42M300.6 194.0h1.42M289.5 165.3h1.42M287.1 185.2h1.42M287.7 181.1h1.42M293.0 164.7h1.42M293.0 209.2h1.42M295.9 175.2h1.42M290.7 171.7h1.42M291.8 178.7h1.42M297.1 194.0h1.42M298.9 164.7h1.42M301.2 183.4h1.42M308.2 182.8h1.42M275.4 180.5h1.42M305.3 195.7h1.42M299.4 181.1h1.42M288.3 181.7h1.42M297.7 174.6h1.42M308.2 179.9h1.42M308.8 188.7h1.42M298.9 182.8h1.42M288.9 185.8h1.42M295.3 169.9h1.42M279.5 160.0h1.42M293.0 198.7h1.42M285.4 193.4h1.42M293.6 164.7h1.42M293.6 174.6h1.42M300.6 173.5h1.42M301.8 179.9h1.42M299.4 168.8h1.42M300.0 190.4h1.42M298.9 185.2h1.42M309.4 194.6h1.42M294.8 182.8h1.42M292.4 202.8h1.42M288.3 171.1h1.42M297.1 192.2h1.42M303.0 191.6h1.42M311.2 182.8h1.42M294.2 188.7h1.42M303.5 180.5h1.42M294.8 167.6h1.42M303.5 181.7h1.42M286.6 194.6h1.42M301.8 203.3h1.42M281.3 167.0h1.42M294.8 192.2h1.42M288.3 169.9h1.42M297.1 191.6h1.42M299.4 174.6h1.42M297.1 186.3h1.42M301.8 185.2h1.42M298.9 184.6h1.42M301.2 189.3h1.42M294.2 182.8h1.42M302.4 180.5h1.42M286.6 199.2h1.42M302.4 179.3h1.42M291.2 183.4h1.42M294.2 191.0h1.42M298.3 174.6h1.42M298.9 179.3h1.42M304.7 185.2h1.42M293.0 184.6h1.42M298.9 182.2h1.42M287.1 178.7h1.42M284.8 186.9h1.42M310.0 191.0h1.42M295.3 167.6h1.42M302.4 174.6h1.42M297.1 182.8h1.42M285.4 186.3h1.42M303.5 193.4h1.42M303.0 189.3h1.42M303.5 178.1h1.42M309.4 172.3h1.42M294.8 188.1h1.42M297.7 175.8h1.42M291.2 172.3h1.42M293.0 193.4h1.42M290.1 176.4h1.42M289.5 178.7h1.42M291.8 186.3h1.42M290.1 212.1h1.42M291.2 200.4h1.42M290.1 206.9h1.42M284.8 182.8h1.42M290.1 185.2h1.42M294.8 195.1h1.42M299.4 185.2h1.42M304.7 187.5h1.42M303.0 178.7h1.42M294.8 173.5h1.42M293.0 199.2h1.42M294.2 191.0h1.42M295.3 185.8h1.42M286.6 177.0h1.42M300.6 210.4h1.42M296.5 179.9h1.42M294.2 160.6h1.42M288.9 189.9h1.42M309.4 199.2h1.42M287.7 177.0h1.42M311.2 184.0h1.42M294.2 184.6h1.42M302.4 180.5h1.42M282.5 168.2h1.42M297.1 189.9h1.42M304.7 186.9h1.42M295.9 174.0h1.42M305.3 192.8h1.42M298.3 191.6h1.42M305.3 172.9h1.42M312.9 184.0h1.42M288.9 164.7h1.42M288.9 194.0h1.42M280.1 184.0h1.42M288.3 198.7h1.42M300.0 186.3h1.42M303.5 188.1h1.42M301.8 188.7h1.42M298.3 191.0h1.42M295.3 191.6h1.42M290.1 171.1h1.42M296.5 189.3h1.42M294.2 159.4h1.42M278.3 187.5h1.42M304.7 209.8h1.42M292.4 208.6h1.42M284.2 202.2h1.42M300.6 176.4h1.42M299.4 192.2h1.42M311.2 174.0h1.42M291.8 196.3h1.42M288.9 182.2h1.42M304.7 177.0h1.42M293.0 188.7h1.42M305.3 196.9h1.42M300.6 167.0h1.42M283.0 181.1h1.42M286.6 186.9h1.42M286.0 187.5h1.42M307.1 175.2h1.42M302.4 183.4h1.42M300.6 176.4h1.42M285.4 195.1h1.42M298.9 188.7h1.42M266.0 203.3h1.42M296.5 176.4h1.42M295.3 175.2h1.42M305.3 187.5h1.42M300.6 198.7h1.42M287.7 187.5h1.42M295.3 181.1h1.42M286.6 164.7h1.42M292.4 179.9h1.42M290.7 187.5h1.42M320.5 197.5h1.42M290.1 167.6h1.42M291.8 191.0h1.42M296.5 188.7h1.42M312.3 210.4h1.42M287.1 198.7h1.42M306.5 166.4h1.42M304.1 178.1h1.42M288.9 182.2h1.42M292.4 176.4h1.42M312.3 178.7h1.42M278.9 168.2h1.42M283.6 179.3h1.42M278.3 174.0h1.42M288.3 181.1h1.42M295.9 178.1h1.42M286.6 186.3h1.42M298.9 185.2h1.42M297.7 184.6h1.42M301.2 182.2h1.42M294.2 168.2h1.42M294.8 181.7h1.42M290.1 199.2h1.42M305.9 184.0h1.42M297.1 185.2h1.42M305.3 189.9h1.42M288.9 185.2h1.42M296.5 177.0h1.42M295.3 181.1h1.42M287.1 172.9h1.42M291.8 172.3h1.42M281.3 184.0h1.42M288.3 178.7h1.42M314.1 171.1h1.42M296.5 186.3h1.42M284.2 191.6h1.42M301.8 182.2h1.42M305.9 177.6h1.42M312.3 206.3h1.42M301.2 185.8h1.42M304.1 178.1h1.42M297.7 195.7h1.42M288.9 202.2h1.42M298.3 169.4h1.42M294.2 171.1h1.42M285.4 181.1h1.42M311.2 192.2h1.42M294.2 170.5h1.42M288.3 199.2h1.42M293.0 186.9h1.42M304.7 204.5h1.42M294.2 185.8h1.42M290.1 190.4h1.42M307.1 194.6h1.42M289.5 179.3h1.42M303.0 170.5h1.42M296.5 181.1h1.42M291.2 165.8h1.42M305.3 168.8h1.42M302.4 183.4h1.42M303.0 188.7h1.42M296.5 195.1h1.42M294.8 200.4h1.42M268.4 175.8h1.42M293.6 167.6h1.42M293.6 201.6h1.42M304.1 185.8h1.42M316.4 185.8h1.42M296.5 167.0h1.42M317.6 171.1h1.42M295.3 192.8h1.42M305.9 175.8h1.42M306.5 199.2h1.42M281.3 172.3h1.42M311.2 200.4h1.42M287.1 168.8h1.42M295.3 165.8h1.42M288.9 181.1h1.42M290.7 176.4h1.42M286.0 175.2h1.42M293.0 191.0h1.42M308.8 193.4h1.42M286.0 169.9h1.42M305.3 194.6h1.42M300.0 201.0h1.42M303.0 199.2h1.42M300.6 182.8h1.42M303.5 179.3h1.42M303.0 184.0h1.42M287.7 188.1h1.42M283.6 174.0h1.42M304.7 166.4h1.42M300.6 186.9h1.42M310.6 188.1h1.42M297.1 185.2h1.42M294.8 169.4h1.42M288.3 164.1h1.42M280.1 179.9h1.42M298.9 188.7h1.42M309.4 195.7h1.42M294.8 178.1h1.42M303.0 166.4h1.42M303.5 170.5h1.42M282.5 177.6h1.42M298.9 191.6h1.42M286.6 163.5h1.42M297.7 177.0h1.42M301.2 175.2h1.42M294.2 183.4h1.42M295.9 180.5h1.42M305.9 172.3h1.42M314.1 194.6h1.42M287.7 198.7h1.42M293.0 195.1h1.42M290.1 190.4h1.42M287.1 194.0h1.42M300.6 189.9h1.42M291.2 185.8h1.42M305.9 164.7h1.42M306.5 186.3h1.42M295.3 190.4h1.42M287.1 178.1h1.42M297.1 195.1h1.42M295.9 184.6h1.42M290.7 171.1h1.42M307.1 196.9h1.42M294.8 174.0h1.42M287.1 189.3h1.42M301.2 171.7h1.42M283.6 169.4h1.42M305.3 190.4h1.42M294.2 177.0h1.42M308.2 179.3h1.42M297.1 180.5h1.42M283.6 187.5h1.42M290.7 203.3h1.42M298.9 180.5h1.42M291.8 186.9h1.42M294.2 180.5h1.42M300.6 204.5h1.42M283.6 186.9h1.42M291.8 174.6h1.42M286.6 178.1h1.42M295.9 203.9h1.42M301.8 185.8h1.42M294.8 208.0h1.42M287.1 174.0h1.42M291.2 194.0h1.42M291.2 182.2h1.42M298.9 185.2h1.42M300.0 187.5h1.42M298.9 195.1h1.42M301.8 182.8h1.42M287.7 189.9h1.42M286.6 177.6h1.42M283.0 179.3h1.42M302.4 191.6h1.42M297.1 194.6h1.42M287.7 185.8h1.42M301.8 205.7h1.42M292.4 175.8h1.42M291.2 169.9h1.42M287.7 198.1h1.42M297.1 190.4h1.42M298.3 177.6h1.42M297.7 203.3h1.42M293.6 183.4h1.42M294.2 212.1h1.42M294.8 165.8h1.42M292.4 177.0h1.42M273.7 194.0h1.42M291.8 201.0h1.42M291.8 204.5h1.42M297.7 179.9h1.42M292.4 185.8h1.42M293.6 191.6h1.42M291.8 196.3h1.42M288.3 180.5h1.42M281.9 184.6h1.42M290.1 166.4h1.42M296.5 198.7h1.42M297.1 174.6h1.42M305.3 192.2h1.42M308.2 188.7h1.42M295.9 189.9h1.42M297.1 182.2h1.42M291.8 194.0h1.42M295.9 193.4h1.42M287.7 174.0h1.42M291.8 184.6h1.42M296.5 188.1h1.42M301.2 174.0h1.42M290.1 189.3h1.42M291.2 199.2h1.42M303.5 200.4h1.42M293.6 182.2h1.42M303.5 194.6h1.42M296.5 194.6h1.42M293.0 184.6h1.42M306.5 186.9h1.42M293.0 179.3h1.42M298.3 175.2h1.42M288.3 194.6h1.42M310.0 201.0h1.42M291.8 188.1h1.42M309.4 174.0h1.42M293.0 167.0h1.42M293.6 193.4h1.42M284.8 193.4h1.42M286.6 201.0h1.42M296.5 182.2h1.42M303.0 179.3h1.42M290.1 178.7h1.42M295.3 198.1h1.42M303.0 208.0h1.42M295.3 175.8h1.42M290.7 180.5h1.42M297.1 182.2h1.42M294.8 194.6h1.42M293.0 177.0h1.42M302.4 196.9h1.42M280.1 192.2h1.42M308.8 188.7h1.42M297.7 197.5h1.42M286.6 175.2h1.42M299.4 177.0h1.42M296.5 203.3h1.42M305.3 184.6h1.42M303.0 177.6h1.42M294.8 182.2h1.42M300.6 174.0h1.42M308.2 196.3h1.42M308.2 177.0h1.42M300.0 196.3h1.42M296.5 195.1h1.42M290.1 184.6h1.42M299.4 209.2h1.42M301.8 186.9h1.42M297.7 191.0h1.42M279.5 196.9h1.42M293.0 177.6h1.42M291.2 171.7h1.42M297.1 190.4h1.42M294.8 176.4h1.42M295.3 171.7h1.42M294.2 174.0h1.42M302.4 196.3h1.42M288.9 208.6h1.42M297.7 186.3h1.42M289.5 185.2h1.42M301.8 190.4h1.42M298.9 195.1h1.42M297.7 186.3h1.42M303.5 179.9h1.42M301.2 195.1h1.42M305.9 180.5h1.42M284.8 177.0h1.42M296.5 177.0h1.42M290.7 178.1h1.42M307.6 183.4h1.42M300.0 184.6h1.42M294.2 192.8h1.42M303.5 179.9h1.42M295.3 185.2h1.42M297.7 181.1h1.42M294.2 186.3h1.42M305.3 199.8h1.42M297.1 181.1h1.42M307.1 166.4h1.42M290.1 196.9h1.42M297.1 191.0h1.42M288.9 191.6h1.42M295.3 172.9h1.42M288.3 189.9h1.42M303.0 183.4h1.42M303.5 182.2h1.42M296.5 198.1h1.42M291.2 172.9h1.42M298.9 179.3h1.42M309.4 188.7h1.42M288.9 175.2h1.42M282.5 177.0h1.42M295.9 182.8h1.42M285.4 177.6h1.42M283.0 182.8h1.42M298.3 198.1h1.42M300.0 170.5h1.42M303.0 178.1h1.42M299.4 177.6h1.42M301.8 181.7h1.42M297.1 191.0h1.42M308.8 205.1h1.42M293.6 201.6h1.42M291.2 212.1h1.42M308.8 167.0h1.42M301.8 177.0h1.42M295.9 212.1h1.42M297.7 188.1h1.42M291.8 189.3h1.42M290.1 184.0h1.42M281.9 181.1h1.42M282.5 203.3h1.42M300.0 187.5h1.42M293.0 179.3h1.42M290.7 187.5h1.42M291.8 186.3h1.42M301.2 193.4h1.42M307.6 192.8h1.42M295.9 190.4h1.42M288.9 184.6h1.42M291.8 189.9h1.42M294.2 185.2h1.42M301.8 173.5h1.42M297.1 187.5h1.42M302.4 168.8h1.42M286.0 186.9h1.42M298.9 177.6h1.42M310.6 205.7h1.42M300.0 193.4h1.42M294.2 182.2h1.42M298.9 182.2h1.42M304.1 197.5h1.42M298.9 175.2h1.42M305.3 204.5h1.42M284.2 203.3h1.42M298.9 194.6h1.42M298.9 181.7h1.42M300.0 194.6h1.42M296.5 183.4h1.42M230.3 165.8h1.42M303.0 145.9h1.42M270.7 158.8h1.42M308.2 151.8h1.42M288.3 153.5h1.42M293.0 168.2h1.42M283.6 154.7h1.42M242.6 155.3h1.42M272.5 151.8h1.42M236.2 151.2h1.42M301.2 148.3h1.42M253.2 155.3h1.42M218.0 169.4h1.42M218.0 165.3h1.42M203.9 173.5h1.42M237.3 167.0h1.42M237.3 206.9h1.42M202.8 172.3h1.42M212.7 172.3h1.42M227.4 171.7h1.42M240.8 165.3h1.42M210.4 174.0h1.42M238.5 163.5h1.42M243.2 185.8h1.42M211.5 173.5h1.42M239.1 202.8h1.42M226.8 169.9h1.42M212.1 173.5h1.42M240.3 188.7h1.42M231.5 168.8h1.42M209.2 172.3h1.42M246.1 191.0h1.42M237.3 169.9h1.42M235.0 211.0h1.42M217.4 171.7h1.42M203.9 171.1h1.42M213.9 168.8h1.42M243.2 170.5h1.42M211.0 172.3h1.42M239.7 174.0h1.42M242.0 173.5h1.42M234.4 209.2h1.42M235.0 208.0h1.42M215.1 173.5h1.42M201.0 174.0h1.42M199.2 174.0h1.42M198.7 172.9h1.42M240.3 170.5h1.42M236.2 205.1h1.42M213.9 172.3h1.42M220.3 172.9h1.42M221.5 169.9h1.42M239.7 172.9h1.42M235.6 208.0h1.42M231.5 169.4h1.42M226.8 171.7h1.42M209.2 172.9h1.42M205.7 172.3h1.42M206.9 169.9h1.42M209.2 173.5h1.42M220.3 171.1h1.42M235.0 206.9h1.42M239.1 169.9h1.42M228.5 170.5h1.42M235.0 208.6h1.42M239.1 199.2h1.42M243.2 183.4h1.42M241.4 166.4h1.42M220.9 168.8h1.42M238.5 169.9h1.42M240.3 193.4h1.42M233.2 169.4h1.42M242.6 176.4h1.42M240.8 185.8h1.42M243.8 197.5h1.42M239.7 200.4h1.42M206.3 173.5h1.42M209.8 174.0h1.42M241.4 177.6h1.42M221.5 172.3h1.42M234.4 209.8h1.42M228.0 171.1h1.42M212.7 174.0h1.42M239.7 182.2h1.42M241.4 172.3h1.42M229.7 169.4h1.42M218.0 172.9h1.42M239.1 201.6h1.42M208.6 172.9h1.42M204.5 173.5h1.42M212.1 174.0h1.42M242.0 185.2h1.42M239.7 191.0h1.42M240.3 191.0h1.42M203.9 174.0h1.42M208.6 169.9h1.42M240.8 172.9h1.42M225.0 169.4h1.42M213.9 167.6h1.42M233.8 212.1h1.42M220.9 172.9h1.42M206.3 172.9h1.42M239.7 199.8h1.42M220.3 172.9h1.42M212.1 172.9h1.42M197.5 171.1h1.42M229.1 170.5h1.42M241.4 182.2h1.42M231.5 169.9h1.42M233.8 209.8h1.42M241.4 186.3h1.42M241.4 184.0h1.42M240.8 177.6h1.42M209.8 171.1h1.42M216.8 171.7h1.42M227.4 167.6h1.42M208.0 172.3h1.42M196.3 171.1h1.42M233.8 210.4h1.42M233.2 212.1h1.42M200.4 174.0h1.42M219.2 170.5h1.42M216.8 172.3h1.42M209.2 172.3h1.42M235.6 208.0h1.42M241.4 186.3h1.42M213.3 167.6h1.42M209.2 173.5h1.42M239.1 169.4h1.42M240.3 182.2h1.42M218.0 169.4h1.42M241.4 177.6h1.42M208.0 171.1h1.42M209.2 170.5h1.42M213.9 174.0h1.42M240.3 187.5h1.42M225.6 171.7h1.42M217.4 167.6h1.42M233.8 209.8h1.42M240.8 180.5h1.42M240.3 179.3h1.42M237.9 168.8h1.42M242.0 194.0h1.42M242.6 184.0h1.42M243.2 181.7h1.42M241.4 206.3h1.42M241.4 169.9h1.42M208.6 167.6h1.42M202.8 172.9h1.42M212.1 172.9h1.42M198.1 173.5h1.42M225.6 163.5h1.42M223.9 167.6h1.42M242.0 175.2h1.42M204.5 174.0h1.42M237.3 203.9h1.42M202.2 172.3h1.42M239.7 193.4h1.42M213.9 173.5h1.42M233.8 169.9h1.42M240.3 184.0h1.42M240.3 189.3h1.42M211.5 170.5h1.42M215.6 173.5h1.42M210.4 171.1h1.42M222.7 171.7h1.42M242.6 177.6h1.42M243.2 174.6h1.42M232.1 170.5h1.42M214.5 174.0h1.42M241.4 177.6h1.42M239.7 199.8h1.42M235.0 208.6h1.42M239.7 182.2h1.42M241.4 174.6h1.42M242.0 173.5h1.42M235.0 169.9h1.42M236.2 206.9h1.42M226.8 166.4h1.42M234.4 162.9h1.42M203.9 171.7h1.42M237.9 208.0h1.42M241.4 170.5h1.42M236.2 205.7h1.42M233.2 212.1h1.42M210.4 170.5h1.42M240.3 181.1h1.42M240.3 180.5h1.42M211.0 170.5h1.42M237.3 205.1h1.42M243.2 186.3h1.42M245.5 202.2h1.42M243.2 189.9h1.42M241.4 194.6h1.42M232.6 212.1h1.42M208.6 171.1h1.42M197.5 171.7h1.42M222.7 169.9h1.42M240.3 192.2h1.42M229.7 169.9h1.42M226.8 168.2h1.42M241.4 179.9h1.42M239.1 168.2h1.42M241.4 186.3h1.42M203.3 171.1h1.42M243.8 179.3h1.42M227.4 169.4h1.42M239.7 169.4h1.42M239.7 188.7h1.42M243.2 177.0h1.42M243.2 190.4h1.42M206.3 173.5h1.42M212.1 173.5h1.42M225.0 171.1h1.42M229.7 171.7h1.42M239.7 202.8h1.42M196.9 172.9h1.42M207.4 172.9h1.42M211.5 172.9h1.42M206.3 169.4h1.42M230.9 171.1h1.42M206.3 169.9h1.42M242.0 192.8h1.42M211.0 172.9h1.42M228.0 168.8h1.42M208.6 172.9h1.42M240.8 177.6h1.42M223.3 171.1h1.42M237.3 167.6h1.42M203.3 171.7h1.42M240.3 188.1h1.42M202.8 171.7h1.42M237.3 167.0h1.42M237.9 169.9h1.42M236.2 206.3h1.42M240.3 175.2h1.42M240.3 172.9h1.42M237.3 168.8h1.42M242.0 186.9h1.42M240.8 173.5h1.42M237.3 205.1h1.42M245.5 174.0h1.42M234.4 169.9h1.42M240.3 193.4h1.42M211.0 172.9h1.42M228.5 168.2h1.42M240.3 175.2h1.42M229.7 171.1h1.42M233.2 210.4h1.42M236.2 205.1h1.42M240.3 194.6h1.42M223.3 169.9h1.42M205.7 172.9h1.42M241.4 175.8h1.42M236.2 168.2h1.42M196.9 170.5h1.42M225.6 167.6h1.42M241.4 192.8h1.42M235.6 208.6h1.42M240.3 167.6h1.42M236.2 205.1h1.42M236.7 167.0h1.42M209.8 172.9h1.42M213.9 171.1h1.42M236.2 206.3h1.42M239.7 192.8h1.42M219.8 171.1h1.42M237.9 203.3h1.42M234.4 170.5h1.42M234.4 169.9h1.42M220.9 170.5h1.42M234.4 167.6h1.42M242.0 174.0h1.42M240.8 189.9h1.42M238.5 168.8h1.42M201.0 173.5h1.42M240.8 186.9h1.42M216.8 172.9h1.42M237.3 205.7h1.42M215.1 173.5h1.42M234.4 168.2h1.42M221.5 172.3h1.42M240.8 171.7h1.42M237.3 209.8h1.42M235.6 212.1h1.42M234.4 169.9h1.42M238.5 169.4h1.42M214.5 171.1h1.42M237.9 202.8h1.42M242.0 186.3h1.42M202.8 173.5h1.42M233.8 212.1h1.42M205.1 172.3h1.42M237.3 209.8h1.42M235.0 209.8h1.42M212.1 172.9h1.42M197.5 174.0h1.42M237.3 206.3h1.42M218.6 172.3h1.42M240.3 175.2h1.42M208.0 172.3h1.42M240.3 198.1h1.42M231.5 168.8h1.42M236.7 204.5h1.42M236.2 205.7h1.42M236.2 211.0h1.42M197.5 173.5h1.42M235.0 208.6h1.42M242.6 166.4h1.42M240.8 184.0h1.42M200.4 171.7h1.42M233.2 168.8h1.42M217.4 166.4h1.42M233.2 211.0h1.42M242.0 188.1h1.42M240.3 196.3h1.42M233.8 170.5h1.42M240.8 184.6h1.42M220.3 166.4h1.42M240.3 184.0h1.42M241.4 208.0h1.42M233.2 211.0h1.42M206.9 174.0h1.42M199.2 173.5h1.42M240.3 198.7h1.42M242.0 195.1h1.42M237.3 169.4h1.42M240.8 184.6h1.42M239.7 198.7h1.42M218.6 172.3h1.42M237.9 208.6h1.42M236.7 205.7h1.42M240.3 198.1h1.42M241.4 187.5h1.42M240.3 188.7h1.42M202.8 172.9h1.42M229.1 168.2h1.42M218.6 169.9h1.42M240.3 175.8h1.42M218.0 171.1h1.42M200.4 172.9h1.42M203.9 174.0h1.42M234.4 211.5h1.42M239.7 175.8h1.42M236.2 209.8h1.42M218.6 173.5h1.42M235.6 211.0h1.42M216.8 173.5h1.42M232.1 171.1h1.42M239.7 170.5h1.42M240.8 171.1h1.42M196.3 173.5h1.42M239.7 192.2h1.42M240.3 173.5h1.42M230.9 170.5h1.42M240.3 189.3h1.42M238.5 201.0h1.42M202.2 172.3h1.42M233.2 212.1h1.42M235.6 169.4h1.42M237.3 169.9h1.42M201.6 168.8h1.42M198.1 172.3h1.42M207.4 170.5h1.42M241.4 196.3h1.42M239.7 185.2h1.42M244.4 197.5h1.42M207.4 170.5h1.42M240.8 180.5h1.42M235.0 167.6h1.42M237.9 201.6h1.42M235.0 208.0h1.42M237.3 205.7h1.42M244.9 184.0h1.42M240.3 201.0h1.42M242.0 193.4h1.42M220.9 168.2h1.42M229.1 171.1h1.42M240.3 186.3h1.42M218.0 173.5h1.42M241.4 175.8h1.42M204.5 170.5h1.42M228.0 171.1h1.42M225.6 171.7h1.42M224.4 171.7h1.42M235.0 210.4h1.42M241.4 173.5h1.42M240.8 185.2h1.42M208.0 172.3h1.42M201.6 173.5h1.42M240.3 189.3h1.42M239.1 201.0h1.42M243.8 174.6h1.42M228.0 168.8h1.42M239.7 181.1h1.42M228.5 168.8h1.42M232.6 212.1h1.42M243.8 177.6h1.42M238.5 201.6h1.42M238.5 203.3h1.42M223.3 168.8h1.42M240.3 175.2h1.42M234.4 168.8h1.42M239.1 208.6h1.42M239.1 205.1h1.42M219.8 172.3h1.42M207.4 170.5h1.42M237.9 167.0h1.42M225.0 171.7h1.42M222.1 172.3h1.42M239.1 166.4h1.42M240.3 188.1h1.42M241.4 199.2h1.42M236.7 207.4h1.42M248.5 206.3h1.42M242.0 198.1h1.42M216.8 173.5h1.42M230.9 169.9h1.42M240.8 191.0h1.42M202.8 173.5h1.42M202.8 173.5h1.42M197.5 174.0h1.42M209.2 173.5h1.42M225.6 161.7h1.42M233.8 211.0h1.42M238.5 201.0h1.42M242.6 171.7h1.42M196.9 173.5h1.42M220.3 171.7h1.42M235.0 212.1h1.42M196.9 173.5h1.42M209.8 174.0h1.42M238.5 203.9h1.42M226.8 169.9h1.42M205.1 172.3h1.42M241.4 199.8h1.42M234.4 209.8h1.42M226.8 169.9h1.42M234.4 209.2h1.42M216.8 168.2h1.42M233.8 169.9h1.42M239.7 177.6h1.42M204.5 170.5h1.42M239.7 170.5h1.42M240.8 177.6h1.42M242.6 179.3h1.42M214.5 174.0h1.42M241.4 179.9h1.42M237.3 165.8h1.42M209.2 171.7h1.42M229.7 171.1h1.42M212.7 172.9h1.42M240.3 174.6h1.42M240.3 186.3h1.42M241.4 199.8h1.42M210.4 172.9h1.42M215.1 171.7h1.42M239.7 209.8h1.42M240.3 184.6h1.42M209.2 171.7h1.42M239.7 203.9h1.42M237.9 205.7h1.42M202.8 171.7h1.42M199.2 174.0h1.42M241.4 195.1h1.42M196.9 173.5h1.42M233.2 168.2h1.42M234.4 168.8h1.42M234.4 211.5h1.42M228.0 164.1h1.42M239.7 172.3h1.42M240.8 172.3h1.42M235.6 168.8h1.42M220.9 171.1h1.42M240.3 175.2h1.42M222.1 168.8h1.42M206.9 173.5h1.42M242.6 204.5h1.42M209.8 169.9h1.42M199.8 164.7h1.42M230.9 169.9h1.42M226.2 165.3h1.42M216.2 170.5h1.42M236.2 208.6h1.42M239.1 211.0h1.42M199.8 173.5h1.42M211.0 171.1h1.42M216.2 168.8h1.42M241.4 170.5h1.42M227.4 165.3h1.42M243.2 177.0h1.42M197.5 168.8h1.42M235.6 162.3h1.42M198.7 172.3h1.42M240.3 203.9h1.42M243.2 203.3h1.42M239.7 169.4h1.42M241.4 181.7h1.42M240.8 196.9h1.42M240.8 171.1h1.42M243.8 172.9h1.42M242.0 190.4h1.42M239.7 199.8h1.42M202.8 167.0h1.42M240.8 189.3h1.42M229.7 165.8h1.42M199.2 171.7h1.42M204.5 169.9h1.42M212.1 166.4h1.42M237.3 205.7h1.42M241.4 172.9h1.42M219.8 172.9h1.42M236.7 210.4h1.42M243.2 154.1h1.42M207.4 168.8h1.42M207.4 170.5h1.42M237.9 203.3h1.42M214.5 171.7h1.42M223.3 160.0h1.42M239.1 169.4h1.42M240.3 178.1h1.42M214.5 158.2h1.42M241.4 202.8h1.42M216.2 158.2h1.42M214.5 158.2h1.42M242.0 201.0h1.42M237.9 203.9h1.42M221.5 164.1h1.42M208.6 167.6h1.42M222.7 165.8h1.42M241.4 176.4h1.42M240.8 184.0h1.42M197.5 172.9h1.42M196.3 164.1h1.42M242.6 174.0h1.42M233.8 169.9h1.42M241.4 176.4h1.42M242.0 199.2h1.42M214.5 169.9h1.42M196.3 158.8h1.42M242.6 158.8h1.42M202.8 160.6h1.42M240.8 164.1h1.42M211.0 170.5h1.42M215.6 169.9h1.42M228.0 162.3h1.42M237.3 208.6h1.42M240.3 161.1h1.42M229.1 168.2h1.42M243.8 177.0h1.42M214.5 171.7h1.42M236.2 169.9h1.42M216.2 147.7h1.42M239.1 164.7h1.42M216.8 159.4h1.42M228.5 168.8h1.42M237.3 151.2h1.42M226.8 169.9h1.42M225.0 167.0h1.42M201.6 173.5h1.42M215.1 173.5h1.42M242.0 170.5h1.42M240.8 185.2h1.42M243.2 201.0h1.42M228.0 157.0h1.42M240.3 203.3h1.42M196.9 155.3h1.42M208.0 169.4h1.42M198.7 169.4h1.42M232.6 168.2h1.42M237.9 209.2h1.42M242.6 190.4h1.42M230.3 166.4h1.42M232.6 157.0h1.42M213.9 171.1h1.42M241.4 189.9h1.42M201.0 163.5h1.42M229.7 171.1h1.42M243.8 165.3h1.42M241.4 165.8h1.42M209.2 170.5h1.42M240.3 168.2h1.42M232.1 162.3h1.42M237.3 203.9h1.42M213.9 170.5h1.42M203.3 168.2h1.42M209.8 172.3h1.42M240.8 158.2h1.42M225.6 168.2h1.42M211.0 172.9h1.42M201.0 165.8h1.42M238.5 208.0h1.42M196.3 172.9h1.42M240.3 177.6h1.42M233.8 167.6h1.42M228.5 162.9h1.42M232.1 167.6h1.42M225.6 154.1h1.42M235.0 155.9h1.42M209.8 172.3h1.42M209.2 165.3h1.42M238.5 167.6h1.42M203.9 169.9h1.42M223.9 171.1h1.42M198.7 171.1h1.42M212.7 167.6h1.42M223.9 170.5h1.42M210.4 169.4h1.42M225.0 150.0h1.42M235.0 161.7h1.42M216.2 167.6h1.42M209.8 167.6h1.42M228.0 161.1h1.42M240.8 205.1h1.42M239.1 211.5h1.42M201.6 172.9h1.42M236.2 164.1h1.42M242.6 196.3h1.42M227.4 169.4h1.42M241.4 185.2h1.42M241.4 188.1h1.42M243.2 206.9h1.42M202.2 172.9h1.42M208.0 162.3h1.42M228.5 171.1h1.42M208.0 172.9h1.42M238.5 208.6h1.42M243.8 178.7h1.42M205.1 166.4h1.42M232.6 164.7h1.42M225.6 162.3h1.42M224.4 165.3h1.42M240.3 196.3h1.42M242.6 186.9h1.42M240.3 188.7h1.42M222.7 170.5h1.42M242.0 174.0h1.42M221.5 165.3h1.42M239.7 200.4h1.42M232.6 162.3h1.42M216.2 161.7h1.42M239.1 202.2h1.42" stroke="#000" stroke-width="1.42" fill="none"/>
<rect x="38.7" y="63.9" width="149.1" height="148.7" fill="none" stroke="#000" stroke-width="1.7"/>
<path d="M85.9 63.9V212.6M38.7 143.8H187.85" stroke="#000" stroke-width="1.6" fill="none"/>
<rect x="195.7" y="63.8" width="148.5" height="149.3" fill="none" stroke="#000" stroke-width="1.7"/>
<path d="M241.9 63.8V213.1M195.7 144.3H344.2" stroke="#000" stroke-width="1.6" fill="none"/>
<text transform="translate(141,81.9) scale(1.02,1)" font-size="19.0" text-anchor="end" stroke="#000" stroke-width="0.2">0.6</text>
<text transform="translate(185.8,81.9) scale(1.02,1)" font-size="19.0" text-anchor="end" stroke="#000" stroke-width="0.2">2.2</text>
<text transform="translate(141,109.8) scale(1.02,1)" font-size="19.0" text-anchor="end" stroke="#000" stroke-width="0.2">91.5</text>
<text transform="translate(185.8,109.8) scale(1.02,1)" font-size="19.0" text-anchor="end" stroke="#000" stroke-width="0.2">5.7</text>
<path d="M100.5 88.4H187.8M144.9 65.5V114" stroke="#000" stroke-width="1.2" fill="none"/>
<text transform="translate(295.6,81.9) scale(1.02,1)" font-size="19.0" text-anchor="end" stroke="#000" stroke-width="0.2">0.8</text>
<text transform="translate(339.2,81.9) scale(1.02,1)" font-size="19.0" text-anchor="end" stroke="#000" stroke-width="0.2">0.1</text>
<text transform="translate(295.6,109.8) scale(1.02,1)" font-size="19.0" text-anchor="end" stroke="#000" stroke-width="0.2">93.8</text>
<text transform="translate(339.2,109.8) scale(1.02,1)" font-size="19.0" text-anchor="end" stroke="#000" stroke-width="0.2">5.3</text>
<path d="M256 88.4H344.2M301.2 65.5V114" stroke="#000" stroke-width="1.2" fill="none"/>
<text transform="translate(19.3,141.7) rotate(-90) scale(0.865,1)" font-size="24.7" text-anchor="middle">NK1.1</text>
<text transform="translate(159.8,246) scale(0.925,1)" font-size="24.1">Mac-1</text>
<path d="M37.8 238.9H139.5M236 239.3H342.2" stroke="#000" stroke-width="1.4"/>
<rect x="49.7" y="313.4" width="138.0" height="134.8" fill="#fff" stroke="#000" stroke-width="1.3"/>
<path d="M49.7 313.4V448.2H187.7" stroke="#000" stroke-width="1.9" fill="none"/>
<text transform="translate(39.4,455.9) scale(1.03,1)" font-size="15.3" text-anchor="end">0</text>
<text transform="translate(41.0,429.2) scale(1.03,1)" font-size="15.3" text-anchor="end">10</text>
<text transform="translate(41.0,402.2) scale(1.03,1)" font-size="15.3" text-anchor="end">20</text>
<text transform="translate(41.0,375.2) scale(1.03,1)" font-size="15.3" text-anchor="end">30</text>
<text transform="translate(41.0,348.2) scale(1.03,1)" font-size="15.3" text-anchor="end">40</text>
<text transform="translate(41.0,322.1) scale(1.03,1)" font-size="15.3" text-anchor="end">50</text>
<text transform="translate(60.0,466.7) scale(1.03,1)" font-size="15.3" text-anchor="middle">25</text>
<text transform="translate(80.4,466.7) scale(1.03,1)" font-size="15.3" text-anchor="middle">50</text>
<text transform="translate(107.3,466.7) scale(1.03,1)" font-size="15.3" text-anchor="middle">100</text>
<text transform="translate(163.7,466.7) scale(1.03,1)" font-size="15.3" text-anchor="middle">200</text>
<path d="M49.7 447.7h-6.3M49.7 420.7h-6.3M49.7 393.7h-6.3M49.7 366.7h-6.3M49.7 339.7h-6.3M49.7 313.4h-6.3M64.4 448.2v5M78.2 448.2v5M104.3 448.2v5M160.3 448.2v5" stroke="#000" stroke-width="1.4" fill="none"/>
<text transform="translate(59.2,332.8) scale(0.935,1)" font-size="18.4" font-weight="bold">YAC-1</text>
<polyline points="64.4,447.0 78.2,441.8 104.3,442.4 160.3,435.8" fill="none" stroke="#000" stroke-width="1.7"/>
<polyline points="64.4,422.6 78.2,400.4 104.3,366.8 160.3,348.8" fill="none" stroke="#000" stroke-width="1.7"/>
<polyline points="64.4,447.0 78.2,443.6 104.3,436.8 160.3,432.8" fill="none" stroke="#000" stroke-width="1.7"/>
<polyline points="64.4,413.8 78.2,402.6 104.3,362.0 160.3,332.0" fill="none" stroke="#000" stroke-width="1.7"/>
<circle cx="64.4" cy="447.0" r="4.8" fill="#000"/>
<circle cx="78.2" cy="441.8" r="4.8" fill="#000"/>
<circle cx="104.3" cy="442.4" r="4.8" fill="#000"/>
<circle cx="160.3" cy="435.8" r="4.8" fill="#000"/>
<rect x="59.6" y="417.8" width="9.6" height="9.6" fill="#000"/>
<rect x="73.4" y="395.6" width="9.6" height="9.6" fill="#000"/>
<rect x="99.5" y="362.0" width="9.6" height="9.6" fill="#000"/>
<rect x="155.5" y="344.0" width="9.6" height="9.6" fill="#000"/>
<path d="M78.2 436.1V443.6" stroke="#000" stroke-width="1.3" fill="none"/><path d="M74.60000000000001 436.1h7.2" stroke="#000" stroke-width="1.7" fill="none"/>
<path d="M104.3 430.8V436.8" stroke="#000" stroke-width="1.3" fill="none"/><path d="M100.7 430.8h7.2" stroke="#000" stroke-width="1.7" fill="none"/>
<circle cx="64.4" cy="447.0" r="4.0" fill="#fff" stroke="#000" stroke-width="1.6"/>
<circle cx="78.2" cy="443.6" r="4.0" fill="#fff" stroke="#000" stroke-width="1.6"/>
<circle cx="104.3" cy="436.8" r="4.0" fill="#fff" stroke="#000" stroke-width="1.6"/>
<circle cx="160.3" cy="432.8" r="4.0" fill="#fff" stroke="#000" stroke-width="1.6"/>
<path d="M104.3 354.5V362.0" stroke="#000" stroke-width="1.3" fill="none"/><path d="M100.7 354.5h7.2" stroke="#000" stroke-width="1.7" fill="none"/>
<rect x="60.4" y="409.8" width="8.0" height="8.0" fill="#fff" stroke="#000" stroke-width="1.6"/>
<rect x="74.2" y="398.6" width="8.0" height="8.0" fill="#fff" stroke="#000" stroke-width="1.6"/>
<rect x="100.3" y="358.0" width="8.0" height="8.0" fill="#fff" stroke="#000" stroke-width="1.6"/>
<rect x="156.3" y="328.0" width="8.0" height="8.0" fill="#fff" stroke="#000" stroke-width="1.6"/>
<rect x="225.0" y="313.4" width="137.6" height="134.8" fill="#fff" stroke="#000" stroke-width="1.3"/>
<path d="M225.0 313.4V448.2H362.6" stroke="#000" stroke-width="1.9" fill="none"/>
<text transform="translate(214.0,455.9) scale(1.03,1)" font-size="15.3" text-anchor="end">0</text>
<text transform="translate(216.4,429.1) scale(1.03,1)" font-size="15.3" text-anchor="end">5</text>
<text transform="translate(216.4,402.1) scale(1.03,1)" font-size="15.3" text-anchor="end">10</text>
<text transform="translate(216.4,375.0) scale(1.03,1)" font-size="15.3" text-anchor="end">15</text>
<text transform="translate(216.4,348.0) scale(1.03,1)" font-size="15.3" text-anchor="end">20</text>
<text transform="translate(216.4,322.1) scale(1.03,1)" font-size="15.3" text-anchor="end">25</text>
<text transform="translate(235.5,466.7) scale(1.03,1)" font-size="15.3" text-anchor="middle">25</text>
<text transform="translate(257.4,466.7) scale(1.03,1)" font-size="15.3" text-anchor="middle">50</text>
<text transform="translate(288.5,466.7) scale(1.03,1)" font-size="15.3" text-anchor="middle">100</text>
<text transform="translate(349.8,466.7) scale(1.03,1)" font-size="15.3" text-anchor="middle">200</text>
<path d="M225.0 447.7h-6.3M225.0 420.6h-6.3M225.0 393.6h-6.3M225.0 366.5h-6.3M225.0 339.5h-6.3M225.0 313.4h-6.3M239.9 448.2v5M255.2 448.2v5M285.5 448.2v5M346.4 448.2v5" stroke="#000" stroke-width="1.4" fill="none"/>
<text transform="translate(233,332.8) scale(0.935,1)" font-size="18.4" font-weight="bold">RMA-s</text>
<polyline points="240.2,441.0 255.5,439.8 285.6,433.4 346.8,422.0" fill="none" stroke="#000" stroke-width="1.7"/>
<polyline points="240.2,416.6 255.5,402.8 285.6,366.8 346.8,357.2" fill="none" stroke="#000" stroke-width="1.7"/>
<polyline points="240.2,438.4 255.5,441.8 285.6,427.9 346.8,424.6" fill="none" stroke="#000" stroke-width="1.7"/>
<polyline points="240.2,410.8 255.5,391.9 285.6,361.9 346.8,337.1" fill="none" stroke="#000" stroke-width="1.7"/>
<circle cx="240.2" cy="441.0" r="4.8" fill="#000"/>
<circle cx="255.5" cy="439.8" r="4.8" fill="#000"/>
<circle cx="285.6" cy="433.4" r="4.8" fill="#000"/>
<circle cx="346.8" cy="422.0" r="4.8" fill="#000"/>
<path d="M285.6 355.8V378.3" stroke="#000" stroke-width="1.3" fill="none"/><path d="M282.0 355.8h7.2M282.0 378.3h7.2" stroke="#000" stroke-width="1.7" fill="none"/>
<rect x="235.4" y="411.8" width="9.6" height="9.6" fill="#000"/>
<rect x="250.7" y="398.0" width="9.6" height="9.6" fill="#000"/>
<rect x="280.8" y="362.0" width="9.6" height="9.6" fill="#000"/>
<rect x="342.0" y="352.4" width="9.6" height="9.6" fill="#000"/>
<path d="M240.2 432.9V438.4" stroke="#000" stroke-width="1.3" fill="none"/><path d="M236.6 432.9h7.2" stroke="#000" stroke-width="1.7" fill="none"/>
<circle cx="240.2" cy="438.4" r="4.0" fill="#fff" stroke="#000" stroke-width="1.6"/>
<circle cx="255.5" cy="441.8" r="4.0" fill="#fff" stroke="#000" stroke-width="1.6"/>
<circle cx="285.6" cy="427.9" r="4.0" fill="#fff" stroke="#000" stroke-width="1.6"/>
<circle cx="346.8" cy="424.6" r="4.0" fill="#fff" stroke="#000" stroke-width="1.6"/>
<path d="M285.6 355.4V361.9" stroke="#000" stroke-width="1.3" fill="none"/><path d="M282.0 355.4h7.2" stroke="#000" stroke-width="1.7" fill="none"/>
<path d="M346.8 330.3V337.1" stroke="#000" stroke-width="1.3" fill="none"/><path d="M343.2 330.3h7.2" stroke="#000" stroke-width="1.7" fill="none"/>
<rect x="236.2" y="406.8" width="8.0" height="8.0" fill="#fff" stroke="#000" stroke-width="1.6"/>
<rect x="251.5" y="387.9" width="8.0" height="8.0" fill="#fff" stroke="#000" stroke-width="1.6"/>
<rect x="281.6" y="357.9" width="8.0" height="8.0" fill="#fff" stroke="#000" stroke-width="1.6"/>
<rect x="342.8" y="333.1" width="8.0" height="8.0" fill="#fff" stroke="#000" stroke-width="1.6"/>
<text x="188.2" y="491.2" font-size="16.9">E:T</text>
<text transform="translate(14.4,384.8) rotate(-90) scale(0.925,1)" font-size="18.8" text-anchor="middle">Specific lysis (%)</text>
<path d="M380 334.5H428.6" stroke="#000" stroke-width="1.4"/>
<rect x="400.0" y="330.5" width="8.0" height="8.0" fill="#fff" stroke="#000" stroke-width="1.6"/>
<path d="M380 368.6H428.6" stroke="#000" stroke-width="1.4"/>
<rect x="399.2" y="363.8" width="9.6" height="9.6" fill="#000"/>
<path d="M380 402.4H428.6" stroke="#000" stroke-width="1.4"/>
<circle cx="404.0" cy="402.4" r="4.0" fill="#fff" stroke="#000" stroke-width="1.6"/>
<path d="M380 436.8H428.6" stroke="#000" stroke-width="1.4"/>
<circle cx="404.0" cy="436.8" r="4.8" fill="#000"/>
<text transform="translate(465.9,341.5) scale(0.96,1)" font-size="17.6" font-weight="bold">WT</text>
<text transform="translate(440.9,373.5) scale(0.96,1)" font-size="17.6" font-weight="bold">WT</text>
<path d="M471.0 368.6H489.0M480.6 363.70000000000005L489.0 368.6L480.6 373.5" stroke="#000" stroke-width="1.5" fill="none" stroke-linejoin="miter"/>
<text transform="translate(494.9,373.5) scale(0.96,1)" font-size="17.6" font-weight="bold">Tg</text>
<text transform="translate(468.5,408.5) scale(0.96,1)" font-size="17.6" font-weight="bold">Tg</text>
<text transform="translate(437.9,442.0) scale(0.96,1)" font-size="17.6" font-weight="bold">Tg</text>
<path d="M467.5 436.0H485.4M477.0 431.1L485.4 436.0L477.0 440.9" stroke="#000" stroke-width="1.5" fill="none" stroke-linejoin="miter"/>
<text transform="translate(492.1,442.0) scale(0.96,1)" font-size="17.6" font-weight="bold">WT</text>
</svg>
</body></html>
